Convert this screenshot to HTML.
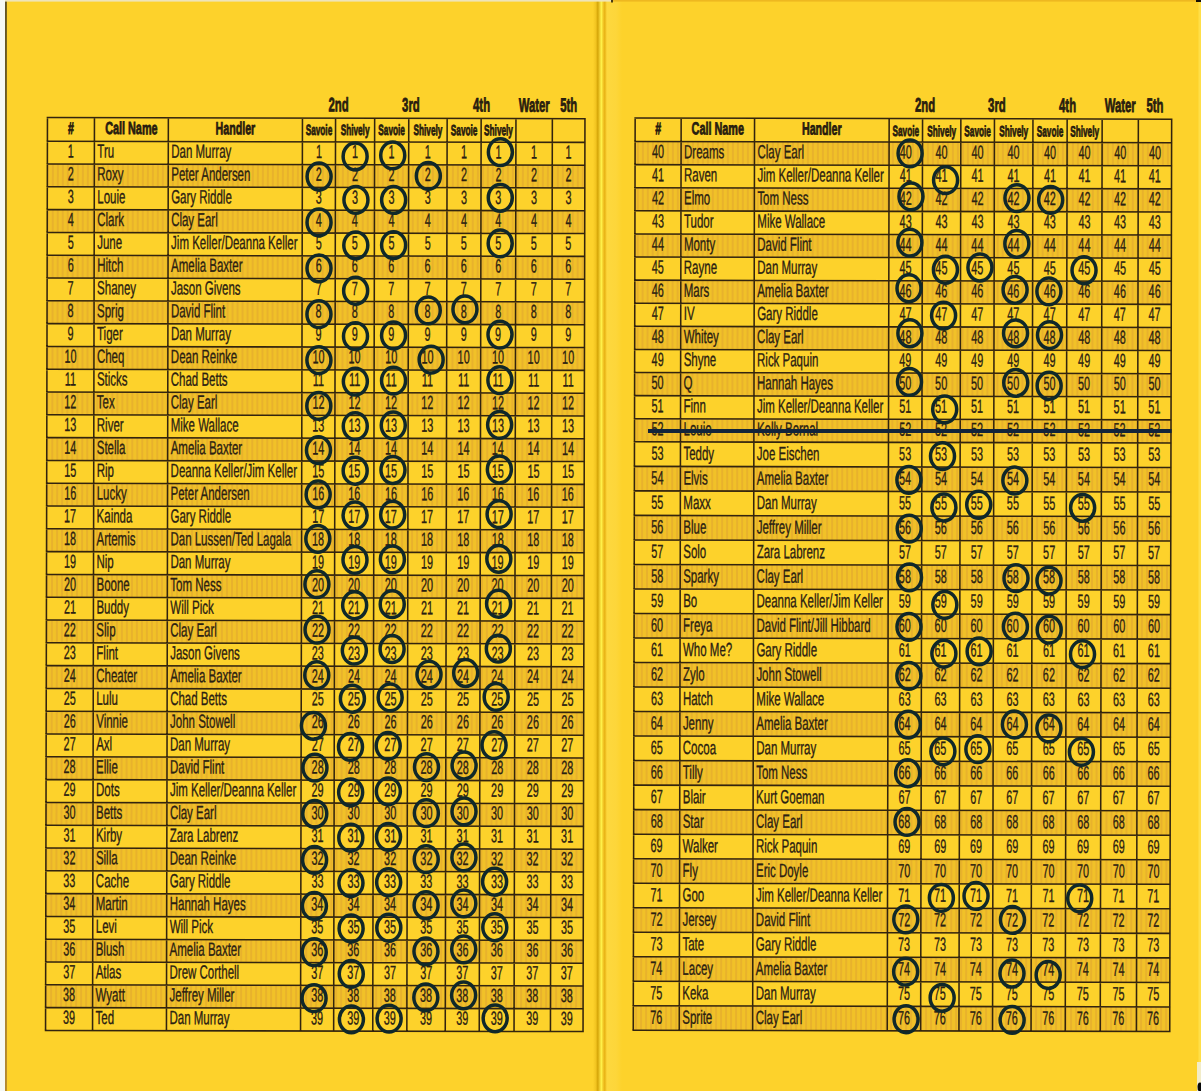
<!DOCTYPE html>
<html><head><meta charset="utf-8"><style>
html,body{margin:0;padding:0;width:1201px;height:1091px;overflow:hidden;background:#fdd22b;}
svg{display:block;font-family:"Liberation Sans",sans-serif;}
</style></head><body>
<svg width="1201" height="1091" viewBox="0 0 1201 1091">
<defs>
<pattern id="shade" width="5" height="4" patternUnits="userSpaceOnUse">
<rect width="5" height="4" fill="#f1c128"/>
<rect x="1" width="2" height="4" fill="#e8b22c"/>
</pattern>
</defs>
<rect width="1201" height="1091" fill="#fdd22b"/>
<rect x="0" y="0" width="5.2" height="1091" fill="#f6f9f4"/>
<defs><linearGradient id="lline" x1="0" y1="0" x2="0" y2="1091" gradientUnits="userSpaceOnUse"><stop offset="0" stop-color="#3c3418"/><stop offset="0.5" stop-color="#6a5420"/><stop offset="1" stop-color="#a07428"/></linearGradient></defs>
<rect x="5.2" y="1" width="1.5" height="1091" fill="url(#lline)"/>
<defs><linearGradient id="fold" x1="593" x2="622" gradientUnits="userSpaceOnUse">
<stop offset="0" stop-color="#fdd22b"/>
<stop offset="0.10" stop-color="#f2c420"/>
<stop offset="0.165" stop-color="#d4a508"/>
<stop offset="0.22" stop-color="#ecc628"/>
<stop offset="0.29" stop-color="#fff24a"/>
<stop offset="0.345" stop-color="#f4cc2a"/>
<stop offset="0.405" stop-color="#e8b214"/>
<stop offset="0.48" stop-color="#fdd83e"/>
<stop offset="0.8" stop-color="#fdd63a"/>
<stop offset="1" stop-color="#fdd22b"/>
</linearGradient></defs>
<rect x="593" y="0" width="29" height="1091" fill="url(#fold)"/>
<rect x="1198.5" y="0" width="2.5" height="1091" fill="#ffdf48"/>
<rect x="5" y="0" width="607" height="1.6" fill="#efe4b8"/>
<rect x="612" y="0" width="1201" height="1.6" fill="#eeb820"/>
<rect x="611" y="0" width="2" height="2.5" fill="#4a3a10"/>

<g transform="rotate(0.12 315 575)">
<rect x="46.5" y="164.60" width="537.50" height="22.80" fill="url(#shade)"/>
<rect x="46.5" y="210.20" width="537.50" height="22.80" fill="url(#shade)"/>
<rect x="46.5" y="255.80" width="537.50" height="22.80" fill="url(#shade)"/>
<rect x="46.5" y="301.40" width="537.50" height="22.80" fill="url(#shade)"/>
<rect x="46.5" y="347.00" width="537.50" height="22.80" fill="url(#shade)"/>
<rect x="46.5" y="392.60" width="537.50" height="22.80" fill="url(#shade)"/>
<rect x="46.5" y="438.20" width="537.50" height="22.80" fill="url(#shade)"/>
<rect x="46.5" y="483.80" width="537.50" height="22.80" fill="url(#shade)"/>
<rect x="46.5" y="529.40" width="537.50" height="22.80" fill="url(#shade)"/>
<rect x="46.5" y="575.00" width="537.50" height="22.80" fill="url(#shade)"/>
<rect x="46.5" y="620.60" width="537.50" height="22.80" fill="url(#shade)"/>
<rect x="46.5" y="666.20" width="537.50" height="22.80" fill="url(#shade)"/>
<rect x="46.5" y="711.80" width="537.50" height="22.80" fill="url(#shade)"/>
<rect x="46.5" y="757.40" width="537.50" height="22.80" fill="url(#shade)"/>
<rect x="46.5" y="803.00" width="537.50" height="22.80" fill="url(#shade)"/>
<rect x="46.5" y="848.60" width="537.50" height="22.80" fill="url(#shade)"/>
<rect x="46.5" y="894.20" width="537.50" height="22.80" fill="url(#shade)"/>
<rect x="46.5" y="939.80" width="537.50" height="22.80" fill="url(#shade)"/>
<rect x="46.5" y="985.40" width="537.50" height="22.80" fill="url(#shade)"/>
<path d="M45.70 118.10H584.80 M45.70 141.80H584.80 M45.70 164.60H584.80 M45.70 187.40H584.80 M45.70 210.20H584.80 M45.70 233.00H584.80 M45.70 255.80H584.80 M45.70 278.60H584.80 M45.70 301.40H584.80 M45.70 324.20H584.80 M45.70 347.00H584.80 M45.70 369.80H584.80 M45.70 392.60H584.80 M45.70 415.40H584.80 M45.70 438.20H584.80 M45.70 461.00H584.80 M45.70 483.80H584.80 M45.70 506.60H584.80 M45.70 529.40H584.80 M45.70 552.20H584.80 M45.70 575.00H584.80 M45.70 597.80H584.80 M45.70 620.60H584.80 M45.70 643.40H584.80 M45.70 666.20H584.80 M45.70 689.00H584.80 M45.70 711.80H584.80 M45.70 734.60H584.80 M45.70 757.40H584.80 M45.70 780.20H584.80 M45.70 803.00H584.80 M45.70 825.80H584.80 M45.70 848.60H584.80 M45.70 871.40H584.80 M45.70 894.20H584.80 M45.70 917.00H584.80 M45.70 939.80H584.80 M45.70 962.60H584.80 M45.70 985.40H584.80 M45.70 1008.20H584.80 M45.70 1031.00H584.80 M46.50 118.10V1031.00 M93.50 118.10V1031.00 M167.40 118.10V1031.00 M301.50 118.10V1031.00 M334.60 118.10V1031.00 M373.70 118.10V1031.00 M407.80 118.10V1031.00 M446.20 118.10V1031.00 M480.20 118.10V1031.00 M515.00 118.10V1031.00 M551.40 118.10V1031.00 M584.00 118.10V1031.00" stroke="#33240e" stroke-width="1.55" fill="none"/>
<text transform="translate(327.55 111.20) scale(0.580 1)" font-size="19.5" font-weight="bold" fill="#2a2012" stroke="#1e160a" stroke-width="0.75">2nd</text>
<text transform="translate(401.15 111.20) scale(0.580 1)" font-size="19.5" font-weight="bold" fill="#2a2012" stroke="#1e160a" stroke-width="0.75">3rd</text>
<text transform="translate(472.12 111.20) scale(0.580 1)" font-size="19.5" font-weight="bold" fill="#2a2012" stroke="#1e160a" stroke-width="0.75">4th</text>
<text transform="translate(517.70 111.20) scale(0.580 1)" font-size="19.5" font-weight="bold" fill="#2a2012" stroke="#1e160a" stroke-width="0.75">Water</text>
<text transform="translate(559.22 111.20) scale(0.580 1)" font-size="19.5" font-weight="bold" fill="#2a2012" stroke="#1e160a" stroke-width="0.75">5th</text>
<text transform="translate(67.07 134.50) scale(0.620 1)" font-size="17" font-weight="bold" fill="#2a2012" stroke="#1e160a" stroke-width="0.75">#</text>
<text transform="translate(104.22 134.50) scale(0.620 1)" font-size="17.5" font-weight="bold" fill="#2a2012" stroke="#1e160a" stroke-width="0.75">Call Name</text>
<text transform="translate(214.58 134.50) scale(0.610 1)" font-size="17.5" font-weight="bold" fill="#2a2012" stroke="#1e160a" stroke-width="0.75">Handler</text>
<text transform="translate(304.75 134.90) scale(0.550 1)" font-size="15" font-weight="bold" fill="#2a2012" stroke="#1e160a" stroke-width="0.75">Savoie</text>
<text transform="translate(339.71 134.90) scale(0.550 1)" font-size="15" font-weight="bold" fill="#2a2012" stroke="#1e160a" stroke-width="0.75">Shively</text>
<text transform="translate(377.45 134.90) scale(0.550 1)" font-size="15" font-weight="bold" fill="#2a2012" stroke="#1e160a" stroke-width="0.75">Savoie</text>
<text transform="translate(412.56 134.90) scale(0.550 1)" font-size="15" font-weight="bold" fill="#2a2012" stroke="#1e160a" stroke-width="0.75">Shively</text>
<text transform="translate(449.90 134.90) scale(0.550 1)" font-size="15" font-weight="bold" fill="#2a2012" stroke="#1e160a" stroke-width="0.75">Savoie</text>
<text transform="translate(483.16 134.90) scale(0.550 1)" font-size="15" font-weight="bold" fill="#2a2012" stroke="#1e160a" stroke-width="0.75">Shively</text>
<text transform="translate(66.99 158.00) scale(0.570 1)" font-size="19" fill="#2a2012" stroke="#2a2012" stroke-width="0.35">1</text>
<text transform="translate(96.50 158.00) scale(0.605 1)" font-size="19" fill="#2a2012" stroke="#2a2012" stroke-width="0.35">Tru</text>
<text transform="translate(170.40 158.00) scale(0.605 1)" font-size="19" fill="#2a2012" stroke="#2a2012" stroke-width="0.35">Dan Murray</text>
<text transform="translate(315.04 158.00) scale(0.570 1)" font-size="19" fill="#2a2012" stroke="#2a2012" stroke-width="0.35">1</text>
<text transform="translate(351.14 158.00) scale(0.570 1)" font-size="19" fill="#2a2012" stroke="#2a2012" stroke-width="0.35">1</text>
<text transform="translate(387.74 158.00) scale(0.570 1)" font-size="19" fill="#2a2012" stroke="#2a2012" stroke-width="0.35">1</text>
<text transform="translate(423.99 158.00) scale(0.570 1)" font-size="19" fill="#2a2012" stroke="#2a2012" stroke-width="0.35">1</text>
<text transform="translate(460.19 158.00) scale(0.570 1)" font-size="19" fill="#2a2012" stroke="#2a2012" stroke-width="0.35">1</text>
<text transform="translate(494.59 158.00) scale(0.570 1)" font-size="19" fill="#2a2012" stroke="#2a2012" stroke-width="0.35">1</text>
<text transform="translate(530.19 158.00) scale(0.570 1)" font-size="19" fill="#2a2012" stroke="#2a2012" stroke-width="0.35">1</text>
<text transform="translate(564.69 158.00) scale(0.570 1)" font-size="19" fill="#2a2012" stroke="#2a2012" stroke-width="0.35">1</text>
<text transform="translate(66.99 180.80) scale(0.570 1)" font-size="19" fill="#2a2012" stroke="#2a2012" stroke-width="0.35">2</text>
<text transform="translate(96.50 180.80) scale(0.605 1)" font-size="19" fill="#2a2012" stroke="#2a2012" stroke-width="0.35">Roxy</text>
<text transform="translate(170.40 180.80) scale(0.605 1)" font-size="19" fill="#2a2012" stroke="#2a2012" stroke-width="0.35">Peter Andersen</text>
<text transform="translate(315.04 180.80) scale(0.570 1)" font-size="19" fill="#2a2012" stroke="#2a2012" stroke-width="0.35">2</text>
<text transform="translate(351.14 180.80) scale(0.570 1)" font-size="19" fill="#2a2012" stroke="#2a2012" stroke-width="0.35">2</text>
<text transform="translate(387.74 180.80) scale(0.570 1)" font-size="19" fill="#2a2012" stroke="#2a2012" stroke-width="0.35">2</text>
<text transform="translate(423.99 180.80) scale(0.570 1)" font-size="19" fill="#2a2012" stroke="#2a2012" stroke-width="0.35">2</text>
<text transform="translate(460.19 180.80) scale(0.570 1)" font-size="19" fill="#2a2012" stroke="#2a2012" stroke-width="0.35">2</text>
<text transform="translate(494.59 180.80) scale(0.570 1)" font-size="19" fill="#2a2012" stroke="#2a2012" stroke-width="0.35">2</text>
<text transform="translate(530.19 180.80) scale(0.570 1)" font-size="19" fill="#2a2012" stroke="#2a2012" stroke-width="0.35">2</text>
<text transform="translate(564.69 180.80) scale(0.570 1)" font-size="19" fill="#2a2012" stroke="#2a2012" stroke-width="0.35">2</text>
<text transform="translate(66.99 203.60) scale(0.570 1)" font-size="19" fill="#2a2012" stroke="#2a2012" stroke-width="0.35">3</text>
<text transform="translate(96.50 203.60) scale(0.605 1)" font-size="19" fill="#2a2012" stroke="#2a2012" stroke-width="0.35">Louie</text>
<text transform="translate(170.40 203.60) scale(0.605 1)" font-size="19" fill="#2a2012" stroke="#2a2012" stroke-width="0.35">Gary Riddle</text>
<text transform="translate(315.04 203.60) scale(0.570 1)" font-size="19" fill="#2a2012" stroke="#2a2012" stroke-width="0.35">3</text>
<text transform="translate(351.14 203.60) scale(0.570 1)" font-size="19" fill="#2a2012" stroke="#2a2012" stroke-width="0.35">3</text>
<text transform="translate(387.74 203.60) scale(0.570 1)" font-size="19" fill="#2a2012" stroke="#2a2012" stroke-width="0.35">3</text>
<text transform="translate(423.99 203.60) scale(0.570 1)" font-size="19" fill="#2a2012" stroke="#2a2012" stroke-width="0.35">3</text>
<text transform="translate(460.19 203.60) scale(0.570 1)" font-size="19" fill="#2a2012" stroke="#2a2012" stroke-width="0.35">3</text>
<text transform="translate(494.59 203.60) scale(0.570 1)" font-size="19" fill="#2a2012" stroke="#2a2012" stroke-width="0.35">3</text>
<text transform="translate(530.19 203.60) scale(0.570 1)" font-size="19" fill="#2a2012" stroke="#2a2012" stroke-width="0.35">3</text>
<text transform="translate(564.69 203.60) scale(0.570 1)" font-size="19" fill="#2a2012" stroke="#2a2012" stroke-width="0.35">3</text>
<text transform="translate(66.99 226.40) scale(0.570 1)" font-size="19" fill="#2a2012" stroke="#2a2012" stroke-width="0.35">4</text>
<text transform="translate(96.50 226.40) scale(0.605 1)" font-size="19" fill="#2a2012" stroke="#2a2012" stroke-width="0.35">Clark</text>
<text transform="translate(170.40 226.40) scale(0.605 1)" font-size="19" fill="#2a2012" stroke="#2a2012" stroke-width="0.35">Clay Earl</text>
<text transform="translate(315.04 226.40) scale(0.570 1)" font-size="19" fill="#2a2012" stroke="#2a2012" stroke-width="0.35">4</text>
<text transform="translate(351.14 226.40) scale(0.570 1)" font-size="19" fill="#2a2012" stroke="#2a2012" stroke-width="0.35">4</text>
<text transform="translate(387.74 226.40) scale(0.570 1)" font-size="19" fill="#2a2012" stroke="#2a2012" stroke-width="0.35">4</text>
<text transform="translate(423.99 226.40) scale(0.570 1)" font-size="19" fill="#2a2012" stroke="#2a2012" stroke-width="0.35">4</text>
<text transform="translate(460.19 226.40) scale(0.570 1)" font-size="19" fill="#2a2012" stroke="#2a2012" stroke-width="0.35">4</text>
<text transform="translate(494.59 226.40) scale(0.570 1)" font-size="19" fill="#2a2012" stroke="#2a2012" stroke-width="0.35">4</text>
<text transform="translate(530.19 226.40) scale(0.570 1)" font-size="19" fill="#2a2012" stroke="#2a2012" stroke-width="0.35">4</text>
<text transform="translate(564.69 226.40) scale(0.570 1)" font-size="19" fill="#2a2012" stroke="#2a2012" stroke-width="0.35">4</text>
<text transform="translate(66.99 249.20) scale(0.570 1)" font-size="19" fill="#2a2012" stroke="#2a2012" stroke-width="0.35">5</text>
<text transform="translate(96.50 249.20) scale(0.605 1)" font-size="19" fill="#2a2012" stroke="#2a2012" stroke-width="0.35">June</text>
<text transform="translate(170.40 249.20) scale(0.605 1)" font-size="19" fill="#2a2012" stroke="#2a2012" stroke-width="0.35">Jim Keller/Deanna Keller</text>
<text transform="translate(315.04 249.20) scale(0.570 1)" font-size="19" fill="#2a2012" stroke="#2a2012" stroke-width="0.35">5</text>
<text transform="translate(351.14 249.20) scale(0.570 1)" font-size="19" fill="#2a2012" stroke="#2a2012" stroke-width="0.35">5</text>
<text transform="translate(387.74 249.20) scale(0.570 1)" font-size="19" fill="#2a2012" stroke="#2a2012" stroke-width="0.35">5</text>
<text transform="translate(423.99 249.20) scale(0.570 1)" font-size="19" fill="#2a2012" stroke="#2a2012" stroke-width="0.35">5</text>
<text transform="translate(460.19 249.20) scale(0.570 1)" font-size="19" fill="#2a2012" stroke="#2a2012" stroke-width="0.35">5</text>
<text transform="translate(494.59 249.20) scale(0.570 1)" font-size="19" fill="#2a2012" stroke="#2a2012" stroke-width="0.35">5</text>
<text transform="translate(530.19 249.20) scale(0.570 1)" font-size="19" fill="#2a2012" stroke="#2a2012" stroke-width="0.35">5</text>
<text transform="translate(564.69 249.20) scale(0.570 1)" font-size="19" fill="#2a2012" stroke="#2a2012" stroke-width="0.35">5</text>
<text transform="translate(66.99 272.00) scale(0.570 1)" font-size="19" fill="#2a2012" stroke="#2a2012" stroke-width="0.35">6</text>
<text transform="translate(96.50 272.00) scale(0.605 1)" font-size="19" fill="#2a2012" stroke="#2a2012" stroke-width="0.35">Hitch</text>
<text transform="translate(170.40 272.00) scale(0.605 1)" font-size="19" fill="#2a2012" stroke="#2a2012" stroke-width="0.35">Amelia Baxter</text>
<text transform="translate(315.04 272.00) scale(0.570 1)" font-size="19" fill="#2a2012" stroke="#2a2012" stroke-width="0.35">6</text>
<text transform="translate(351.14 272.00) scale(0.570 1)" font-size="19" fill="#2a2012" stroke="#2a2012" stroke-width="0.35">6</text>
<text transform="translate(387.74 272.00) scale(0.570 1)" font-size="19" fill="#2a2012" stroke="#2a2012" stroke-width="0.35">6</text>
<text transform="translate(423.99 272.00) scale(0.570 1)" font-size="19" fill="#2a2012" stroke="#2a2012" stroke-width="0.35">6</text>
<text transform="translate(460.19 272.00) scale(0.570 1)" font-size="19" fill="#2a2012" stroke="#2a2012" stroke-width="0.35">6</text>
<text transform="translate(494.59 272.00) scale(0.570 1)" font-size="19" fill="#2a2012" stroke="#2a2012" stroke-width="0.35">6</text>
<text transform="translate(530.19 272.00) scale(0.570 1)" font-size="19" fill="#2a2012" stroke="#2a2012" stroke-width="0.35">6</text>
<text transform="translate(564.69 272.00) scale(0.570 1)" font-size="19" fill="#2a2012" stroke="#2a2012" stroke-width="0.35">6</text>
<text transform="translate(66.99 294.80) scale(0.570 1)" font-size="19" fill="#2a2012" stroke="#2a2012" stroke-width="0.35">7</text>
<text transform="translate(96.50 294.80) scale(0.605 1)" font-size="19" fill="#2a2012" stroke="#2a2012" stroke-width="0.35">Shaney</text>
<text transform="translate(170.40 294.80) scale(0.605 1)" font-size="19" fill="#2a2012" stroke="#2a2012" stroke-width="0.35">Jason Givens</text>
<text transform="translate(315.04 294.80) scale(0.570 1)" font-size="19" fill="#2a2012" stroke="#2a2012" stroke-width="0.35">7</text>
<text transform="translate(351.14 294.80) scale(0.570 1)" font-size="19" fill="#2a2012" stroke="#2a2012" stroke-width="0.35">7</text>
<text transform="translate(387.74 294.80) scale(0.570 1)" font-size="19" fill="#2a2012" stroke="#2a2012" stroke-width="0.35">7</text>
<text transform="translate(423.99 294.80) scale(0.570 1)" font-size="19" fill="#2a2012" stroke="#2a2012" stroke-width="0.35">7</text>
<text transform="translate(460.19 294.80) scale(0.570 1)" font-size="19" fill="#2a2012" stroke="#2a2012" stroke-width="0.35">7</text>
<text transform="translate(494.59 294.80) scale(0.570 1)" font-size="19" fill="#2a2012" stroke="#2a2012" stroke-width="0.35">7</text>
<text transform="translate(530.19 294.80) scale(0.570 1)" font-size="19" fill="#2a2012" stroke="#2a2012" stroke-width="0.35">7</text>
<text transform="translate(564.69 294.80) scale(0.570 1)" font-size="19" fill="#2a2012" stroke="#2a2012" stroke-width="0.35">7</text>
<text transform="translate(66.99 317.60) scale(0.570 1)" font-size="19" fill="#2a2012" stroke="#2a2012" stroke-width="0.35">8</text>
<text transform="translate(96.50 317.60) scale(0.605 1)" font-size="19" fill="#2a2012" stroke="#2a2012" stroke-width="0.35">Sprig</text>
<text transform="translate(170.40 317.60) scale(0.605 1)" font-size="19" fill="#2a2012" stroke="#2a2012" stroke-width="0.35">David Flint</text>
<text transform="translate(315.04 317.60) scale(0.570 1)" font-size="19" fill="#2a2012" stroke="#2a2012" stroke-width="0.35">8</text>
<text transform="translate(351.14 317.60) scale(0.570 1)" font-size="19" fill="#2a2012" stroke="#2a2012" stroke-width="0.35">8</text>
<text transform="translate(387.74 317.60) scale(0.570 1)" font-size="19" fill="#2a2012" stroke="#2a2012" stroke-width="0.35">8</text>
<text transform="translate(423.99 317.60) scale(0.570 1)" font-size="19" fill="#2a2012" stroke="#2a2012" stroke-width="0.35">8</text>
<text transform="translate(460.19 317.60) scale(0.570 1)" font-size="19" fill="#2a2012" stroke="#2a2012" stroke-width="0.35">8</text>
<text transform="translate(494.59 317.60) scale(0.570 1)" font-size="19" fill="#2a2012" stroke="#2a2012" stroke-width="0.35">8</text>
<text transform="translate(530.19 317.60) scale(0.570 1)" font-size="19" fill="#2a2012" stroke="#2a2012" stroke-width="0.35">8</text>
<text transform="translate(564.69 317.60) scale(0.570 1)" font-size="19" fill="#2a2012" stroke="#2a2012" stroke-width="0.35">8</text>
<text transform="translate(66.99 340.40) scale(0.570 1)" font-size="19" fill="#2a2012" stroke="#2a2012" stroke-width="0.35">9</text>
<text transform="translate(96.50 340.40) scale(0.605 1)" font-size="19" fill="#2a2012" stroke="#2a2012" stroke-width="0.35">Tiger</text>
<text transform="translate(170.40 340.40) scale(0.605 1)" font-size="19" fill="#2a2012" stroke="#2a2012" stroke-width="0.35">Dan Murray</text>
<text transform="translate(315.04 340.40) scale(0.570 1)" font-size="19" fill="#2a2012" stroke="#2a2012" stroke-width="0.35">9</text>
<text transform="translate(351.14 340.40) scale(0.570 1)" font-size="19" fill="#2a2012" stroke="#2a2012" stroke-width="0.35">9</text>
<text transform="translate(387.74 340.40) scale(0.570 1)" font-size="19" fill="#2a2012" stroke="#2a2012" stroke-width="0.35">9</text>
<text transform="translate(423.99 340.40) scale(0.570 1)" font-size="19" fill="#2a2012" stroke="#2a2012" stroke-width="0.35">9</text>
<text transform="translate(460.19 340.40) scale(0.570 1)" font-size="19" fill="#2a2012" stroke="#2a2012" stroke-width="0.35">9</text>
<text transform="translate(494.59 340.40) scale(0.570 1)" font-size="19" fill="#2a2012" stroke="#2a2012" stroke-width="0.35">9</text>
<text transform="translate(530.19 340.40) scale(0.570 1)" font-size="19" fill="#2a2012" stroke="#2a2012" stroke-width="0.35">9</text>
<text transform="translate(564.69 340.40) scale(0.570 1)" font-size="19" fill="#2a2012" stroke="#2a2012" stroke-width="0.35">9</text>
<text transform="translate(63.98 363.20) scale(0.570 1)" font-size="19" fill="#2a2012" stroke="#2a2012" stroke-width="0.35">10</text>
<text transform="translate(96.50 363.20) scale(0.605 1)" font-size="19" fill="#2a2012" stroke="#2a2012" stroke-width="0.35">Cheq</text>
<text transform="translate(170.40 363.20) scale(0.605 1)" font-size="19" fill="#2a2012" stroke="#2a2012" stroke-width="0.35">Dean Reinke</text>
<text transform="translate(312.03 363.20) scale(0.570 1)" font-size="19" fill="#2a2012" stroke="#2a2012" stroke-width="0.35">10</text>
<text transform="translate(348.13 363.20) scale(0.570 1)" font-size="19" fill="#2a2012" stroke="#2a2012" stroke-width="0.35">10</text>
<text transform="translate(384.73 363.20) scale(0.570 1)" font-size="19" fill="#2a2012" stroke="#2a2012" stroke-width="0.35">10</text>
<text transform="translate(420.98 363.20) scale(0.570 1)" font-size="19" fill="#2a2012" stroke="#2a2012" stroke-width="0.35">10</text>
<text transform="translate(457.18 363.20) scale(0.570 1)" font-size="19" fill="#2a2012" stroke="#2a2012" stroke-width="0.35">10</text>
<text transform="translate(491.58 363.20) scale(0.570 1)" font-size="19" fill="#2a2012" stroke="#2a2012" stroke-width="0.35">10</text>
<text transform="translate(527.18 363.20) scale(0.570 1)" font-size="19" fill="#2a2012" stroke="#2a2012" stroke-width="0.35">10</text>
<text transform="translate(561.68 363.20) scale(0.570 1)" font-size="19" fill="#2a2012" stroke="#2a2012" stroke-width="0.35">10</text>
<text transform="translate(64.38 386.00) scale(0.570 1)" font-size="19" fill="#2a2012" stroke="#2a2012" stroke-width="0.35">11</text>
<text transform="translate(96.50 386.00) scale(0.605 1)" font-size="19" fill="#2a2012" stroke="#2a2012" stroke-width="0.35">Sticks</text>
<text transform="translate(170.40 386.00) scale(0.605 1)" font-size="19" fill="#2a2012" stroke="#2a2012" stroke-width="0.35">Chad Betts</text>
<text transform="translate(312.43 386.00) scale(0.570 1)" font-size="19" fill="#2a2012" stroke="#2a2012" stroke-width="0.35">11</text>
<text transform="translate(348.53 386.00) scale(0.570 1)" font-size="19" fill="#2a2012" stroke="#2a2012" stroke-width="0.35">11</text>
<text transform="translate(385.13 386.00) scale(0.570 1)" font-size="19" fill="#2a2012" stroke="#2a2012" stroke-width="0.35">11</text>
<text transform="translate(421.38 386.00) scale(0.570 1)" font-size="19" fill="#2a2012" stroke="#2a2012" stroke-width="0.35">11</text>
<text transform="translate(457.58 386.00) scale(0.570 1)" font-size="19" fill="#2a2012" stroke="#2a2012" stroke-width="0.35">11</text>
<text transform="translate(491.98 386.00) scale(0.570 1)" font-size="19" fill="#2a2012" stroke="#2a2012" stroke-width="0.35">11</text>
<text transform="translate(527.58 386.00) scale(0.570 1)" font-size="19" fill="#2a2012" stroke="#2a2012" stroke-width="0.35">11</text>
<text transform="translate(562.08 386.00) scale(0.570 1)" font-size="19" fill="#2a2012" stroke="#2a2012" stroke-width="0.35">11</text>
<text transform="translate(63.98 408.80) scale(0.570 1)" font-size="19" fill="#2a2012" stroke="#2a2012" stroke-width="0.35">12</text>
<text transform="translate(96.50 408.80) scale(0.605 1)" font-size="19" fill="#2a2012" stroke="#2a2012" stroke-width="0.35">Tex</text>
<text transform="translate(170.40 408.80) scale(0.605 1)" font-size="19" fill="#2a2012" stroke="#2a2012" stroke-width="0.35">Clay Earl</text>
<text transform="translate(312.03 408.80) scale(0.570 1)" font-size="19" fill="#2a2012" stroke="#2a2012" stroke-width="0.35">12</text>
<text transform="translate(348.13 408.80) scale(0.570 1)" font-size="19" fill="#2a2012" stroke="#2a2012" stroke-width="0.35">12</text>
<text transform="translate(384.73 408.80) scale(0.570 1)" font-size="19" fill="#2a2012" stroke="#2a2012" stroke-width="0.35">12</text>
<text transform="translate(420.98 408.80) scale(0.570 1)" font-size="19" fill="#2a2012" stroke="#2a2012" stroke-width="0.35">12</text>
<text transform="translate(457.18 408.80) scale(0.570 1)" font-size="19" fill="#2a2012" stroke="#2a2012" stroke-width="0.35">12</text>
<text transform="translate(491.58 408.80) scale(0.570 1)" font-size="19" fill="#2a2012" stroke="#2a2012" stroke-width="0.35">12</text>
<text transform="translate(527.18 408.80) scale(0.570 1)" font-size="19" fill="#2a2012" stroke="#2a2012" stroke-width="0.35">12</text>
<text transform="translate(561.68 408.80) scale(0.570 1)" font-size="19" fill="#2a2012" stroke="#2a2012" stroke-width="0.35">12</text>
<text transform="translate(63.98 431.60) scale(0.570 1)" font-size="19" fill="#2a2012" stroke="#2a2012" stroke-width="0.35">13</text>
<text transform="translate(96.50 431.60) scale(0.605 1)" font-size="19" fill="#2a2012" stroke="#2a2012" stroke-width="0.35">River</text>
<text transform="translate(170.40 431.60) scale(0.605 1)" font-size="19" fill="#2a2012" stroke="#2a2012" stroke-width="0.35">Mike Wallace</text>
<text transform="translate(312.03 431.60) scale(0.570 1)" font-size="19" fill="#2a2012" stroke="#2a2012" stroke-width="0.35">13</text>
<text transform="translate(348.13 431.60) scale(0.570 1)" font-size="19" fill="#2a2012" stroke="#2a2012" stroke-width="0.35">13</text>
<text transform="translate(384.73 431.60) scale(0.570 1)" font-size="19" fill="#2a2012" stroke="#2a2012" stroke-width="0.35">13</text>
<text transform="translate(420.98 431.60) scale(0.570 1)" font-size="19" fill="#2a2012" stroke="#2a2012" stroke-width="0.35">13</text>
<text transform="translate(457.18 431.60) scale(0.570 1)" font-size="19" fill="#2a2012" stroke="#2a2012" stroke-width="0.35">13</text>
<text transform="translate(491.58 431.60) scale(0.570 1)" font-size="19" fill="#2a2012" stroke="#2a2012" stroke-width="0.35">13</text>
<text transform="translate(527.18 431.60) scale(0.570 1)" font-size="19" fill="#2a2012" stroke="#2a2012" stroke-width="0.35">13</text>
<text transform="translate(561.68 431.60) scale(0.570 1)" font-size="19" fill="#2a2012" stroke="#2a2012" stroke-width="0.35">13</text>
<text transform="translate(63.98 454.40) scale(0.570 1)" font-size="19" fill="#2a2012" stroke="#2a2012" stroke-width="0.35">14</text>
<text transform="translate(96.50 454.40) scale(0.605 1)" font-size="19" fill="#2a2012" stroke="#2a2012" stroke-width="0.35">Stella</text>
<text transform="translate(170.40 454.40) scale(0.605 1)" font-size="19" fill="#2a2012" stroke="#2a2012" stroke-width="0.35">Amelia Baxter</text>
<text transform="translate(312.03 454.40) scale(0.570 1)" font-size="19" fill="#2a2012" stroke="#2a2012" stroke-width="0.35">14</text>
<text transform="translate(348.13 454.40) scale(0.570 1)" font-size="19" fill="#2a2012" stroke="#2a2012" stroke-width="0.35">14</text>
<text transform="translate(384.73 454.40) scale(0.570 1)" font-size="19" fill="#2a2012" stroke="#2a2012" stroke-width="0.35">14</text>
<text transform="translate(420.98 454.40) scale(0.570 1)" font-size="19" fill="#2a2012" stroke="#2a2012" stroke-width="0.35">14</text>
<text transform="translate(457.18 454.40) scale(0.570 1)" font-size="19" fill="#2a2012" stroke="#2a2012" stroke-width="0.35">14</text>
<text transform="translate(491.58 454.40) scale(0.570 1)" font-size="19" fill="#2a2012" stroke="#2a2012" stroke-width="0.35">14</text>
<text transform="translate(527.18 454.40) scale(0.570 1)" font-size="19" fill="#2a2012" stroke="#2a2012" stroke-width="0.35">14</text>
<text transform="translate(561.68 454.40) scale(0.570 1)" font-size="19" fill="#2a2012" stroke="#2a2012" stroke-width="0.35">14</text>
<text transform="translate(63.98 477.20) scale(0.570 1)" font-size="19" fill="#2a2012" stroke="#2a2012" stroke-width="0.35">15</text>
<text transform="translate(96.50 477.20) scale(0.605 1)" font-size="19" fill="#2a2012" stroke="#2a2012" stroke-width="0.35">Rip</text>
<text transform="translate(170.40 477.20) scale(0.605 1)" font-size="19" fill="#2a2012" stroke="#2a2012" stroke-width="0.35">Deanna Keller/Jim Keller</text>
<text transform="translate(312.03 477.20) scale(0.570 1)" font-size="19" fill="#2a2012" stroke="#2a2012" stroke-width="0.35">15</text>
<text transform="translate(348.13 477.20) scale(0.570 1)" font-size="19" fill="#2a2012" stroke="#2a2012" stroke-width="0.35">15</text>
<text transform="translate(384.73 477.20) scale(0.570 1)" font-size="19" fill="#2a2012" stroke="#2a2012" stroke-width="0.35">15</text>
<text transform="translate(420.98 477.20) scale(0.570 1)" font-size="19" fill="#2a2012" stroke="#2a2012" stroke-width="0.35">15</text>
<text transform="translate(457.18 477.20) scale(0.570 1)" font-size="19" fill="#2a2012" stroke="#2a2012" stroke-width="0.35">15</text>
<text transform="translate(491.58 477.20) scale(0.570 1)" font-size="19" fill="#2a2012" stroke="#2a2012" stroke-width="0.35">15</text>
<text transform="translate(527.18 477.20) scale(0.570 1)" font-size="19" fill="#2a2012" stroke="#2a2012" stroke-width="0.35">15</text>
<text transform="translate(561.68 477.20) scale(0.570 1)" font-size="19" fill="#2a2012" stroke="#2a2012" stroke-width="0.35">15</text>
<text transform="translate(63.98 500.00) scale(0.570 1)" font-size="19" fill="#2a2012" stroke="#2a2012" stroke-width="0.35">16</text>
<text transform="translate(96.50 500.00) scale(0.605 1)" font-size="19" fill="#2a2012" stroke="#2a2012" stroke-width="0.35">Lucky</text>
<text transform="translate(170.40 500.00) scale(0.605 1)" font-size="19" fill="#2a2012" stroke="#2a2012" stroke-width="0.35">Peter Andersen</text>
<text transform="translate(312.03 500.00) scale(0.570 1)" font-size="19" fill="#2a2012" stroke="#2a2012" stroke-width="0.35">16</text>
<text transform="translate(348.13 500.00) scale(0.570 1)" font-size="19" fill="#2a2012" stroke="#2a2012" stroke-width="0.35">16</text>
<text transform="translate(384.73 500.00) scale(0.570 1)" font-size="19" fill="#2a2012" stroke="#2a2012" stroke-width="0.35">16</text>
<text transform="translate(420.98 500.00) scale(0.570 1)" font-size="19" fill="#2a2012" stroke="#2a2012" stroke-width="0.35">16</text>
<text transform="translate(457.18 500.00) scale(0.570 1)" font-size="19" fill="#2a2012" stroke="#2a2012" stroke-width="0.35">16</text>
<text transform="translate(491.58 500.00) scale(0.570 1)" font-size="19" fill="#2a2012" stroke="#2a2012" stroke-width="0.35">16</text>
<text transform="translate(527.18 500.00) scale(0.570 1)" font-size="19" fill="#2a2012" stroke="#2a2012" stroke-width="0.35">16</text>
<text transform="translate(561.68 500.00) scale(0.570 1)" font-size="19" fill="#2a2012" stroke="#2a2012" stroke-width="0.35">16</text>
<text transform="translate(63.98 522.80) scale(0.570 1)" font-size="19" fill="#2a2012" stroke="#2a2012" stroke-width="0.35">17</text>
<text transform="translate(96.50 522.80) scale(0.605 1)" font-size="19" fill="#2a2012" stroke="#2a2012" stroke-width="0.35">Kainda</text>
<text transform="translate(170.40 522.80) scale(0.605 1)" font-size="19" fill="#2a2012" stroke="#2a2012" stroke-width="0.35">Gary Riddle</text>
<text transform="translate(312.03 522.80) scale(0.570 1)" font-size="19" fill="#2a2012" stroke="#2a2012" stroke-width="0.35">17</text>
<text transform="translate(348.13 522.80) scale(0.570 1)" font-size="19" fill="#2a2012" stroke="#2a2012" stroke-width="0.35">17</text>
<text transform="translate(384.73 522.80) scale(0.570 1)" font-size="19" fill="#2a2012" stroke="#2a2012" stroke-width="0.35">17</text>
<text transform="translate(420.98 522.80) scale(0.570 1)" font-size="19" fill="#2a2012" stroke="#2a2012" stroke-width="0.35">17</text>
<text transform="translate(457.18 522.80) scale(0.570 1)" font-size="19" fill="#2a2012" stroke="#2a2012" stroke-width="0.35">17</text>
<text transform="translate(491.58 522.80) scale(0.570 1)" font-size="19" fill="#2a2012" stroke="#2a2012" stroke-width="0.35">17</text>
<text transform="translate(527.18 522.80) scale(0.570 1)" font-size="19" fill="#2a2012" stroke="#2a2012" stroke-width="0.35">17</text>
<text transform="translate(561.68 522.80) scale(0.570 1)" font-size="19" fill="#2a2012" stroke="#2a2012" stroke-width="0.35">17</text>
<text transform="translate(63.98 545.60) scale(0.570 1)" font-size="19" fill="#2a2012" stroke="#2a2012" stroke-width="0.35">18</text>
<text transform="translate(96.50 545.60) scale(0.605 1)" font-size="19" fill="#2a2012" stroke="#2a2012" stroke-width="0.35">Artemis</text>
<text transform="translate(170.40 545.60) scale(0.605 1)" font-size="19" fill="#2a2012" stroke="#2a2012" stroke-width="0.35">Dan Lussen/Ted Lagala</text>
<text transform="translate(312.03 545.60) scale(0.570 1)" font-size="19" fill="#2a2012" stroke="#2a2012" stroke-width="0.35">18</text>
<text transform="translate(348.13 545.60) scale(0.570 1)" font-size="19" fill="#2a2012" stroke="#2a2012" stroke-width="0.35">18</text>
<text transform="translate(384.73 545.60) scale(0.570 1)" font-size="19" fill="#2a2012" stroke="#2a2012" stroke-width="0.35">18</text>
<text transform="translate(420.98 545.60) scale(0.570 1)" font-size="19" fill="#2a2012" stroke="#2a2012" stroke-width="0.35">18</text>
<text transform="translate(457.18 545.60) scale(0.570 1)" font-size="19" fill="#2a2012" stroke="#2a2012" stroke-width="0.35">18</text>
<text transform="translate(491.58 545.60) scale(0.570 1)" font-size="19" fill="#2a2012" stroke="#2a2012" stroke-width="0.35">18</text>
<text transform="translate(527.18 545.60) scale(0.570 1)" font-size="19" fill="#2a2012" stroke="#2a2012" stroke-width="0.35">18</text>
<text transform="translate(561.68 545.60) scale(0.570 1)" font-size="19" fill="#2a2012" stroke="#2a2012" stroke-width="0.35">18</text>
<text transform="translate(63.98 568.40) scale(0.570 1)" font-size="19" fill="#2a2012" stroke="#2a2012" stroke-width="0.35">19</text>
<text transform="translate(96.50 568.40) scale(0.605 1)" font-size="19" fill="#2a2012" stroke="#2a2012" stroke-width="0.35">Nip</text>
<text transform="translate(170.40 568.40) scale(0.605 1)" font-size="19" fill="#2a2012" stroke="#2a2012" stroke-width="0.35">Dan Murray</text>
<text transform="translate(312.03 568.40) scale(0.570 1)" font-size="19" fill="#2a2012" stroke="#2a2012" stroke-width="0.35">19</text>
<text transform="translate(348.13 568.40) scale(0.570 1)" font-size="19" fill="#2a2012" stroke="#2a2012" stroke-width="0.35">19</text>
<text transform="translate(384.73 568.40) scale(0.570 1)" font-size="19" fill="#2a2012" stroke="#2a2012" stroke-width="0.35">19</text>
<text transform="translate(420.98 568.40) scale(0.570 1)" font-size="19" fill="#2a2012" stroke="#2a2012" stroke-width="0.35">19</text>
<text transform="translate(457.18 568.40) scale(0.570 1)" font-size="19" fill="#2a2012" stroke="#2a2012" stroke-width="0.35">19</text>
<text transform="translate(491.58 568.40) scale(0.570 1)" font-size="19" fill="#2a2012" stroke="#2a2012" stroke-width="0.35">19</text>
<text transform="translate(527.18 568.40) scale(0.570 1)" font-size="19" fill="#2a2012" stroke="#2a2012" stroke-width="0.35">19</text>
<text transform="translate(561.68 568.40) scale(0.570 1)" font-size="19" fill="#2a2012" stroke="#2a2012" stroke-width="0.35">19</text>
<text transform="translate(63.98 591.20) scale(0.570 1)" font-size="19" fill="#2a2012" stroke="#2a2012" stroke-width="0.35">20</text>
<text transform="translate(96.50 591.20) scale(0.605 1)" font-size="19" fill="#2a2012" stroke="#2a2012" stroke-width="0.35">Boone</text>
<text transform="translate(170.40 591.20) scale(0.605 1)" font-size="19" fill="#2a2012" stroke="#2a2012" stroke-width="0.35">Tom Ness</text>
<text transform="translate(312.03 591.20) scale(0.570 1)" font-size="19" fill="#2a2012" stroke="#2a2012" stroke-width="0.35">20</text>
<text transform="translate(348.13 591.20) scale(0.570 1)" font-size="19" fill="#2a2012" stroke="#2a2012" stroke-width="0.35">20</text>
<text transform="translate(384.73 591.20) scale(0.570 1)" font-size="19" fill="#2a2012" stroke="#2a2012" stroke-width="0.35">20</text>
<text transform="translate(420.98 591.20) scale(0.570 1)" font-size="19" fill="#2a2012" stroke="#2a2012" stroke-width="0.35">20</text>
<text transform="translate(457.18 591.20) scale(0.570 1)" font-size="19" fill="#2a2012" stroke="#2a2012" stroke-width="0.35">20</text>
<text transform="translate(491.58 591.20) scale(0.570 1)" font-size="19" fill="#2a2012" stroke="#2a2012" stroke-width="0.35">20</text>
<text transform="translate(527.18 591.20) scale(0.570 1)" font-size="19" fill="#2a2012" stroke="#2a2012" stroke-width="0.35">20</text>
<text transform="translate(561.68 591.20) scale(0.570 1)" font-size="19" fill="#2a2012" stroke="#2a2012" stroke-width="0.35">20</text>
<text transform="translate(63.98 614.00) scale(0.570 1)" font-size="19" fill="#2a2012" stroke="#2a2012" stroke-width="0.35">21</text>
<text transform="translate(96.50 614.00) scale(0.605 1)" font-size="19" fill="#2a2012" stroke="#2a2012" stroke-width="0.35">Buddy</text>
<text transform="translate(170.40 614.00) scale(0.605 1)" font-size="19" fill="#2a2012" stroke="#2a2012" stroke-width="0.35">Will Pick</text>
<text transform="translate(312.03 614.00) scale(0.570 1)" font-size="19" fill="#2a2012" stroke="#2a2012" stroke-width="0.35">21</text>
<text transform="translate(348.13 614.00) scale(0.570 1)" font-size="19" fill="#2a2012" stroke="#2a2012" stroke-width="0.35">21</text>
<text transform="translate(384.73 614.00) scale(0.570 1)" font-size="19" fill="#2a2012" stroke="#2a2012" stroke-width="0.35">21</text>
<text transform="translate(420.98 614.00) scale(0.570 1)" font-size="19" fill="#2a2012" stroke="#2a2012" stroke-width="0.35">21</text>
<text transform="translate(457.18 614.00) scale(0.570 1)" font-size="19" fill="#2a2012" stroke="#2a2012" stroke-width="0.35">21</text>
<text transform="translate(491.58 614.00) scale(0.570 1)" font-size="19" fill="#2a2012" stroke="#2a2012" stroke-width="0.35">21</text>
<text transform="translate(527.18 614.00) scale(0.570 1)" font-size="19" fill="#2a2012" stroke="#2a2012" stroke-width="0.35">21</text>
<text transform="translate(561.68 614.00) scale(0.570 1)" font-size="19" fill="#2a2012" stroke="#2a2012" stroke-width="0.35">21</text>
<text transform="translate(63.98 636.80) scale(0.570 1)" font-size="19" fill="#2a2012" stroke="#2a2012" stroke-width="0.35">22</text>
<text transform="translate(96.50 636.80) scale(0.605 1)" font-size="19" fill="#2a2012" stroke="#2a2012" stroke-width="0.35">Slip</text>
<text transform="translate(170.40 636.80) scale(0.605 1)" font-size="19" fill="#2a2012" stroke="#2a2012" stroke-width="0.35">Clay Earl</text>
<text transform="translate(312.03 636.80) scale(0.570 1)" font-size="19" fill="#2a2012" stroke="#2a2012" stroke-width="0.35">22</text>
<text transform="translate(348.13 636.80) scale(0.570 1)" font-size="19" fill="#2a2012" stroke="#2a2012" stroke-width="0.35">22</text>
<text transform="translate(384.73 636.80) scale(0.570 1)" font-size="19" fill="#2a2012" stroke="#2a2012" stroke-width="0.35">22</text>
<text transform="translate(420.98 636.80) scale(0.570 1)" font-size="19" fill="#2a2012" stroke="#2a2012" stroke-width="0.35">22</text>
<text transform="translate(457.18 636.80) scale(0.570 1)" font-size="19" fill="#2a2012" stroke="#2a2012" stroke-width="0.35">22</text>
<text transform="translate(491.58 636.80) scale(0.570 1)" font-size="19" fill="#2a2012" stroke="#2a2012" stroke-width="0.35">22</text>
<text transform="translate(527.18 636.80) scale(0.570 1)" font-size="19" fill="#2a2012" stroke="#2a2012" stroke-width="0.35">22</text>
<text transform="translate(561.68 636.80) scale(0.570 1)" font-size="19" fill="#2a2012" stroke="#2a2012" stroke-width="0.35">22</text>
<text transform="translate(63.98 659.60) scale(0.570 1)" font-size="19" fill="#2a2012" stroke="#2a2012" stroke-width="0.35">23</text>
<text transform="translate(96.50 659.60) scale(0.605 1)" font-size="19" fill="#2a2012" stroke="#2a2012" stroke-width="0.35">Flint</text>
<text transform="translate(170.40 659.60) scale(0.605 1)" font-size="19" fill="#2a2012" stroke="#2a2012" stroke-width="0.35">Jason Givens</text>
<text transform="translate(312.03 659.60) scale(0.570 1)" font-size="19" fill="#2a2012" stroke="#2a2012" stroke-width="0.35">23</text>
<text transform="translate(348.13 659.60) scale(0.570 1)" font-size="19" fill="#2a2012" stroke="#2a2012" stroke-width="0.35">23</text>
<text transform="translate(384.73 659.60) scale(0.570 1)" font-size="19" fill="#2a2012" stroke="#2a2012" stroke-width="0.35">23</text>
<text transform="translate(420.98 659.60) scale(0.570 1)" font-size="19" fill="#2a2012" stroke="#2a2012" stroke-width="0.35">23</text>
<text transform="translate(457.18 659.60) scale(0.570 1)" font-size="19" fill="#2a2012" stroke="#2a2012" stroke-width="0.35">23</text>
<text transform="translate(491.58 659.60) scale(0.570 1)" font-size="19" fill="#2a2012" stroke="#2a2012" stroke-width="0.35">23</text>
<text transform="translate(527.18 659.60) scale(0.570 1)" font-size="19" fill="#2a2012" stroke="#2a2012" stroke-width="0.35">23</text>
<text transform="translate(561.68 659.60) scale(0.570 1)" font-size="19" fill="#2a2012" stroke="#2a2012" stroke-width="0.35">23</text>
<text transform="translate(63.98 682.40) scale(0.570 1)" font-size="19" fill="#2a2012" stroke="#2a2012" stroke-width="0.35">24</text>
<text transform="translate(96.50 682.40) scale(0.605 1)" font-size="19" fill="#2a2012" stroke="#2a2012" stroke-width="0.35">Cheater</text>
<text transform="translate(170.40 682.40) scale(0.605 1)" font-size="19" fill="#2a2012" stroke="#2a2012" stroke-width="0.35">Amelia Baxter</text>
<text transform="translate(312.03 682.40) scale(0.570 1)" font-size="19" fill="#2a2012" stroke="#2a2012" stroke-width="0.35">24</text>
<text transform="translate(348.13 682.40) scale(0.570 1)" font-size="19" fill="#2a2012" stroke="#2a2012" stroke-width="0.35">24</text>
<text transform="translate(384.73 682.40) scale(0.570 1)" font-size="19" fill="#2a2012" stroke="#2a2012" stroke-width="0.35">24</text>
<text transform="translate(420.98 682.40) scale(0.570 1)" font-size="19" fill="#2a2012" stroke="#2a2012" stroke-width="0.35">24</text>
<text transform="translate(457.18 682.40) scale(0.570 1)" font-size="19" fill="#2a2012" stroke="#2a2012" stroke-width="0.35">24</text>
<text transform="translate(491.58 682.40) scale(0.570 1)" font-size="19" fill="#2a2012" stroke="#2a2012" stroke-width="0.35">24</text>
<text transform="translate(527.18 682.40) scale(0.570 1)" font-size="19" fill="#2a2012" stroke="#2a2012" stroke-width="0.35">24</text>
<text transform="translate(561.68 682.40) scale(0.570 1)" font-size="19" fill="#2a2012" stroke="#2a2012" stroke-width="0.35">24</text>
<text transform="translate(63.98 705.20) scale(0.570 1)" font-size="19" fill="#2a2012" stroke="#2a2012" stroke-width="0.35">25</text>
<text transform="translate(96.50 705.20) scale(0.605 1)" font-size="19" fill="#2a2012" stroke="#2a2012" stroke-width="0.35">Lulu</text>
<text transform="translate(170.40 705.20) scale(0.605 1)" font-size="19" fill="#2a2012" stroke="#2a2012" stroke-width="0.35">Chad Betts</text>
<text transform="translate(312.03 705.20) scale(0.570 1)" font-size="19" fill="#2a2012" stroke="#2a2012" stroke-width="0.35">25</text>
<text transform="translate(348.13 705.20) scale(0.570 1)" font-size="19" fill="#2a2012" stroke="#2a2012" stroke-width="0.35">25</text>
<text transform="translate(384.73 705.20) scale(0.570 1)" font-size="19" fill="#2a2012" stroke="#2a2012" stroke-width="0.35">25</text>
<text transform="translate(420.98 705.20) scale(0.570 1)" font-size="19" fill="#2a2012" stroke="#2a2012" stroke-width="0.35">25</text>
<text transform="translate(457.18 705.20) scale(0.570 1)" font-size="19" fill="#2a2012" stroke="#2a2012" stroke-width="0.35">25</text>
<text transform="translate(491.58 705.20) scale(0.570 1)" font-size="19" fill="#2a2012" stroke="#2a2012" stroke-width="0.35">25</text>
<text transform="translate(527.18 705.20) scale(0.570 1)" font-size="19" fill="#2a2012" stroke="#2a2012" stroke-width="0.35">25</text>
<text transform="translate(561.68 705.20) scale(0.570 1)" font-size="19" fill="#2a2012" stroke="#2a2012" stroke-width="0.35">25</text>
<text transform="translate(63.98 728.00) scale(0.570 1)" font-size="19" fill="#2a2012" stroke="#2a2012" stroke-width="0.35">26</text>
<text transform="translate(96.50 728.00) scale(0.605 1)" font-size="19" fill="#2a2012" stroke="#2a2012" stroke-width="0.35">Vinnie</text>
<text transform="translate(170.40 728.00) scale(0.605 1)" font-size="19" fill="#2a2012" stroke="#2a2012" stroke-width="0.35">John Stowell</text>
<text transform="translate(312.03 728.00) scale(0.570 1)" font-size="19" fill="#2a2012" stroke="#2a2012" stroke-width="0.35">26</text>
<text transform="translate(348.13 728.00) scale(0.570 1)" font-size="19" fill="#2a2012" stroke="#2a2012" stroke-width="0.35">26</text>
<text transform="translate(384.73 728.00) scale(0.570 1)" font-size="19" fill="#2a2012" stroke="#2a2012" stroke-width="0.35">26</text>
<text transform="translate(420.98 728.00) scale(0.570 1)" font-size="19" fill="#2a2012" stroke="#2a2012" stroke-width="0.35">26</text>
<text transform="translate(457.18 728.00) scale(0.570 1)" font-size="19" fill="#2a2012" stroke="#2a2012" stroke-width="0.35">26</text>
<text transform="translate(491.58 728.00) scale(0.570 1)" font-size="19" fill="#2a2012" stroke="#2a2012" stroke-width="0.35">26</text>
<text transform="translate(527.18 728.00) scale(0.570 1)" font-size="19" fill="#2a2012" stroke="#2a2012" stroke-width="0.35">26</text>
<text transform="translate(561.68 728.00) scale(0.570 1)" font-size="19" fill="#2a2012" stroke="#2a2012" stroke-width="0.35">26</text>
<text transform="translate(63.98 750.80) scale(0.570 1)" font-size="19" fill="#2a2012" stroke="#2a2012" stroke-width="0.35">27</text>
<text transform="translate(96.50 750.80) scale(0.605 1)" font-size="19" fill="#2a2012" stroke="#2a2012" stroke-width="0.35">Axl</text>
<text transform="translate(170.40 750.80) scale(0.605 1)" font-size="19" fill="#2a2012" stroke="#2a2012" stroke-width="0.35">Dan Murray</text>
<text transform="translate(312.03 750.80) scale(0.570 1)" font-size="19" fill="#2a2012" stroke="#2a2012" stroke-width="0.35">27</text>
<text transform="translate(348.13 750.80) scale(0.570 1)" font-size="19" fill="#2a2012" stroke="#2a2012" stroke-width="0.35">27</text>
<text transform="translate(384.73 750.80) scale(0.570 1)" font-size="19" fill="#2a2012" stroke="#2a2012" stroke-width="0.35">27</text>
<text transform="translate(420.98 750.80) scale(0.570 1)" font-size="19" fill="#2a2012" stroke="#2a2012" stroke-width="0.35">27</text>
<text transform="translate(457.18 750.80) scale(0.570 1)" font-size="19" fill="#2a2012" stroke="#2a2012" stroke-width="0.35">27</text>
<text transform="translate(491.58 750.80) scale(0.570 1)" font-size="19" fill="#2a2012" stroke="#2a2012" stroke-width="0.35">27</text>
<text transform="translate(527.18 750.80) scale(0.570 1)" font-size="19" fill="#2a2012" stroke="#2a2012" stroke-width="0.35">27</text>
<text transform="translate(561.68 750.80) scale(0.570 1)" font-size="19" fill="#2a2012" stroke="#2a2012" stroke-width="0.35">27</text>
<text transform="translate(63.98 773.60) scale(0.570 1)" font-size="19" fill="#2a2012" stroke="#2a2012" stroke-width="0.35">28</text>
<text transform="translate(96.50 773.60) scale(0.605 1)" font-size="19" fill="#2a2012" stroke="#2a2012" stroke-width="0.35">Ellie</text>
<text transform="translate(170.40 773.60) scale(0.605 1)" font-size="19" fill="#2a2012" stroke="#2a2012" stroke-width="0.35">David Flint</text>
<text transform="translate(312.03 773.60) scale(0.570 1)" font-size="19" fill="#2a2012" stroke="#2a2012" stroke-width="0.35">28</text>
<text transform="translate(348.13 773.60) scale(0.570 1)" font-size="19" fill="#2a2012" stroke="#2a2012" stroke-width="0.35">28</text>
<text transform="translate(384.73 773.60) scale(0.570 1)" font-size="19" fill="#2a2012" stroke="#2a2012" stroke-width="0.35">28</text>
<text transform="translate(420.98 773.60) scale(0.570 1)" font-size="19" fill="#2a2012" stroke="#2a2012" stroke-width="0.35">28</text>
<text transform="translate(457.18 773.60) scale(0.570 1)" font-size="19" fill="#2a2012" stroke="#2a2012" stroke-width="0.35">28</text>
<text transform="translate(491.58 773.60) scale(0.570 1)" font-size="19" fill="#2a2012" stroke="#2a2012" stroke-width="0.35">28</text>
<text transform="translate(527.18 773.60) scale(0.570 1)" font-size="19" fill="#2a2012" stroke="#2a2012" stroke-width="0.35">28</text>
<text transform="translate(561.68 773.60) scale(0.570 1)" font-size="19" fill="#2a2012" stroke="#2a2012" stroke-width="0.35">28</text>
<text transform="translate(63.98 796.40) scale(0.570 1)" font-size="19" fill="#2a2012" stroke="#2a2012" stroke-width="0.35">29</text>
<text transform="translate(96.50 796.40) scale(0.605 1)" font-size="19" fill="#2a2012" stroke="#2a2012" stroke-width="0.35">Dots</text>
<text transform="translate(170.40 796.40) scale(0.605 1)" font-size="19" fill="#2a2012" stroke="#2a2012" stroke-width="0.35">Jim Keller/Deanna Keller</text>
<text transform="translate(312.03 796.40) scale(0.570 1)" font-size="19" fill="#2a2012" stroke="#2a2012" stroke-width="0.35">29</text>
<text transform="translate(348.13 796.40) scale(0.570 1)" font-size="19" fill="#2a2012" stroke="#2a2012" stroke-width="0.35">29</text>
<text transform="translate(384.73 796.40) scale(0.570 1)" font-size="19" fill="#2a2012" stroke="#2a2012" stroke-width="0.35">29</text>
<text transform="translate(420.98 796.40) scale(0.570 1)" font-size="19" fill="#2a2012" stroke="#2a2012" stroke-width="0.35">29</text>
<text transform="translate(457.18 796.40) scale(0.570 1)" font-size="19" fill="#2a2012" stroke="#2a2012" stroke-width="0.35">29</text>
<text transform="translate(491.58 796.40) scale(0.570 1)" font-size="19" fill="#2a2012" stroke="#2a2012" stroke-width="0.35">29</text>
<text transform="translate(527.18 796.40) scale(0.570 1)" font-size="19" fill="#2a2012" stroke="#2a2012" stroke-width="0.35">29</text>
<text transform="translate(561.68 796.40) scale(0.570 1)" font-size="19" fill="#2a2012" stroke="#2a2012" stroke-width="0.35">29</text>
<text transform="translate(63.98 819.20) scale(0.570 1)" font-size="19" fill="#2a2012" stroke="#2a2012" stroke-width="0.35">30</text>
<text transform="translate(96.50 819.20) scale(0.605 1)" font-size="19" fill="#2a2012" stroke="#2a2012" stroke-width="0.35">Betts</text>
<text transform="translate(170.40 819.20) scale(0.605 1)" font-size="19" fill="#2a2012" stroke="#2a2012" stroke-width="0.35">Clay Earl</text>
<text transform="translate(312.03 819.20) scale(0.570 1)" font-size="19" fill="#2a2012" stroke="#2a2012" stroke-width="0.35">30</text>
<text transform="translate(348.13 819.20) scale(0.570 1)" font-size="19" fill="#2a2012" stroke="#2a2012" stroke-width="0.35">30</text>
<text transform="translate(384.73 819.20) scale(0.570 1)" font-size="19" fill="#2a2012" stroke="#2a2012" stroke-width="0.35">30</text>
<text transform="translate(420.98 819.20) scale(0.570 1)" font-size="19" fill="#2a2012" stroke="#2a2012" stroke-width="0.35">30</text>
<text transform="translate(457.18 819.20) scale(0.570 1)" font-size="19" fill="#2a2012" stroke="#2a2012" stroke-width="0.35">30</text>
<text transform="translate(491.58 819.20) scale(0.570 1)" font-size="19" fill="#2a2012" stroke="#2a2012" stroke-width="0.35">30</text>
<text transform="translate(527.18 819.20) scale(0.570 1)" font-size="19" fill="#2a2012" stroke="#2a2012" stroke-width="0.35">30</text>
<text transform="translate(561.68 819.20) scale(0.570 1)" font-size="19" fill="#2a2012" stroke="#2a2012" stroke-width="0.35">30</text>
<text transform="translate(63.98 842.00) scale(0.570 1)" font-size="19" fill="#2a2012" stroke="#2a2012" stroke-width="0.35">31</text>
<text transform="translate(96.50 842.00) scale(0.605 1)" font-size="19" fill="#2a2012" stroke="#2a2012" stroke-width="0.35">Kirby</text>
<text transform="translate(170.40 842.00) scale(0.605 1)" font-size="19" fill="#2a2012" stroke="#2a2012" stroke-width="0.35">Zara Labrenz</text>
<text transform="translate(312.03 842.00) scale(0.570 1)" font-size="19" fill="#2a2012" stroke="#2a2012" stroke-width="0.35">31</text>
<text transform="translate(348.13 842.00) scale(0.570 1)" font-size="19" fill="#2a2012" stroke="#2a2012" stroke-width="0.35">31</text>
<text transform="translate(384.73 842.00) scale(0.570 1)" font-size="19" fill="#2a2012" stroke="#2a2012" stroke-width="0.35">31</text>
<text transform="translate(420.98 842.00) scale(0.570 1)" font-size="19" fill="#2a2012" stroke="#2a2012" stroke-width="0.35">31</text>
<text transform="translate(457.18 842.00) scale(0.570 1)" font-size="19" fill="#2a2012" stroke="#2a2012" stroke-width="0.35">31</text>
<text transform="translate(491.58 842.00) scale(0.570 1)" font-size="19" fill="#2a2012" stroke="#2a2012" stroke-width="0.35">31</text>
<text transform="translate(527.18 842.00) scale(0.570 1)" font-size="19" fill="#2a2012" stroke="#2a2012" stroke-width="0.35">31</text>
<text transform="translate(561.68 842.00) scale(0.570 1)" font-size="19" fill="#2a2012" stroke="#2a2012" stroke-width="0.35">31</text>
<text transform="translate(63.98 864.80) scale(0.570 1)" font-size="19" fill="#2a2012" stroke="#2a2012" stroke-width="0.35">32</text>
<text transform="translate(96.50 864.80) scale(0.605 1)" font-size="19" fill="#2a2012" stroke="#2a2012" stroke-width="0.35">Silla</text>
<text transform="translate(170.40 864.80) scale(0.605 1)" font-size="19" fill="#2a2012" stroke="#2a2012" stroke-width="0.35">Dean Reinke</text>
<text transform="translate(312.03 864.80) scale(0.570 1)" font-size="19" fill="#2a2012" stroke="#2a2012" stroke-width="0.35">32</text>
<text transform="translate(348.13 864.80) scale(0.570 1)" font-size="19" fill="#2a2012" stroke="#2a2012" stroke-width="0.35">32</text>
<text transform="translate(384.73 864.80) scale(0.570 1)" font-size="19" fill="#2a2012" stroke="#2a2012" stroke-width="0.35">32</text>
<text transform="translate(420.98 864.80) scale(0.570 1)" font-size="19" fill="#2a2012" stroke="#2a2012" stroke-width="0.35">32</text>
<text transform="translate(457.18 864.80) scale(0.570 1)" font-size="19" fill="#2a2012" stroke="#2a2012" stroke-width="0.35">32</text>
<text transform="translate(491.58 864.80) scale(0.570 1)" font-size="19" fill="#2a2012" stroke="#2a2012" stroke-width="0.35">32</text>
<text transform="translate(527.18 864.80) scale(0.570 1)" font-size="19" fill="#2a2012" stroke="#2a2012" stroke-width="0.35">32</text>
<text transform="translate(561.68 864.80) scale(0.570 1)" font-size="19" fill="#2a2012" stroke="#2a2012" stroke-width="0.35">32</text>
<text transform="translate(63.98 887.60) scale(0.570 1)" font-size="19" fill="#2a2012" stroke="#2a2012" stroke-width="0.35">33</text>
<text transform="translate(96.50 887.60) scale(0.605 1)" font-size="19" fill="#2a2012" stroke="#2a2012" stroke-width="0.35">Cache</text>
<text transform="translate(170.40 887.60) scale(0.605 1)" font-size="19" fill="#2a2012" stroke="#2a2012" stroke-width="0.35">Gary Riddle</text>
<text transform="translate(312.03 887.60) scale(0.570 1)" font-size="19" fill="#2a2012" stroke="#2a2012" stroke-width="0.35">33</text>
<text transform="translate(348.13 887.60) scale(0.570 1)" font-size="19" fill="#2a2012" stroke="#2a2012" stroke-width="0.35">33</text>
<text transform="translate(384.73 887.60) scale(0.570 1)" font-size="19" fill="#2a2012" stroke="#2a2012" stroke-width="0.35">33</text>
<text transform="translate(420.98 887.60) scale(0.570 1)" font-size="19" fill="#2a2012" stroke="#2a2012" stroke-width="0.35">33</text>
<text transform="translate(457.18 887.60) scale(0.570 1)" font-size="19" fill="#2a2012" stroke="#2a2012" stroke-width="0.35">33</text>
<text transform="translate(491.58 887.60) scale(0.570 1)" font-size="19" fill="#2a2012" stroke="#2a2012" stroke-width="0.35">33</text>
<text transform="translate(527.18 887.60) scale(0.570 1)" font-size="19" fill="#2a2012" stroke="#2a2012" stroke-width="0.35">33</text>
<text transform="translate(561.68 887.60) scale(0.570 1)" font-size="19" fill="#2a2012" stroke="#2a2012" stroke-width="0.35">33</text>
<text transform="translate(63.98 910.40) scale(0.570 1)" font-size="19" fill="#2a2012" stroke="#2a2012" stroke-width="0.35">34</text>
<text transform="translate(96.50 910.40) scale(0.605 1)" font-size="19" fill="#2a2012" stroke="#2a2012" stroke-width="0.35">Martin</text>
<text transform="translate(170.40 910.40) scale(0.605 1)" font-size="19" fill="#2a2012" stroke="#2a2012" stroke-width="0.35">Hannah Hayes</text>
<text transform="translate(312.03 910.40) scale(0.570 1)" font-size="19" fill="#2a2012" stroke="#2a2012" stroke-width="0.35">34</text>
<text transform="translate(348.13 910.40) scale(0.570 1)" font-size="19" fill="#2a2012" stroke="#2a2012" stroke-width="0.35">34</text>
<text transform="translate(384.73 910.40) scale(0.570 1)" font-size="19" fill="#2a2012" stroke="#2a2012" stroke-width="0.35">34</text>
<text transform="translate(420.98 910.40) scale(0.570 1)" font-size="19" fill="#2a2012" stroke="#2a2012" stroke-width="0.35">34</text>
<text transform="translate(457.18 910.40) scale(0.570 1)" font-size="19" fill="#2a2012" stroke="#2a2012" stroke-width="0.35">34</text>
<text transform="translate(491.58 910.40) scale(0.570 1)" font-size="19" fill="#2a2012" stroke="#2a2012" stroke-width="0.35">34</text>
<text transform="translate(527.18 910.40) scale(0.570 1)" font-size="19" fill="#2a2012" stroke="#2a2012" stroke-width="0.35">34</text>
<text transform="translate(561.68 910.40) scale(0.570 1)" font-size="19" fill="#2a2012" stroke="#2a2012" stroke-width="0.35">34</text>
<text transform="translate(63.98 933.20) scale(0.570 1)" font-size="19" fill="#2a2012" stroke="#2a2012" stroke-width="0.35">35</text>
<text transform="translate(96.50 933.20) scale(0.605 1)" font-size="19" fill="#2a2012" stroke="#2a2012" stroke-width="0.35">Levi</text>
<text transform="translate(170.40 933.20) scale(0.605 1)" font-size="19" fill="#2a2012" stroke="#2a2012" stroke-width="0.35">Will Pick</text>
<text transform="translate(312.03 933.20) scale(0.570 1)" font-size="19" fill="#2a2012" stroke="#2a2012" stroke-width="0.35">35</text>
<text transform="translate(348.13 933.20) scale(0.570 1)" font-size="19" fill="#2a2012" stroke="#2a2012" stroke-width="0.35">35</text>
<text transform="translate(384.73 933.20) scale(0.570 1)" font-size="19" fill="#2a2012" stroke="#2a2012" stroke-width="0.35">35</text>
<text transform="translate(420.98 933.20) scale(0.570 1)" font-size="19" fill="#2a2012" stroke="#2a2012" stroke-width="0.35">35</text>
<text transform="translate(457.18 933.20) scale(0.570 1)" font-size="19" fill="#2a2012" stroke="#2a2012" stroke-width="0.35">35</text>
<text transform="translate(491.58 933.20) scale(0.570 1)" font-size="19" fill="#2a2012" stroke="#2a2012" stroke-width="0.35">35</text>
<text transform="translate(527.18 933.20) scale(0.570 1)" font-size="19" fill="#2a2012" stroke="#2a2012" stroke-width="0.35">35</text>
<text transform="translate(561.68 933.20) scale(0.570 1)" font-size="19" fill="#2a2012" stroke="#2a2012" stroke-width="0.35">35</text>
<text transform="translate(63.98 956.00) scale(0.570 1)" font-size="19" fill="#2a2012" stroke="#2a2012" stroke-width="0.35">36</text>
<text transform="translate(96.50 956.00) scale(0.605 1)" font-size="19" fill="#2a2012" stroke="#2a2012" stroke-width="0.35">Blush</text>
<text transform="translate(170.40 956.00) scale(0.605 1)" font-size="19" fill="#2a2012" stroke="#2a2012" stroke-width="0.35">Amelia Baxter</text>
<text transform="translate(312.03 956.00) scale(0.570 1)" font-size="19" fill="#2a2012" stroke="#2a2012" stroke-width="0.35">36</text>
<text transform="translate(348.13 956.00) scale(0.570 1)" font-size="19" fill="#2a2012" stroke="#2a2012" stroke-width="0.35">36</text>
<text transform="translate(384.73 956.00) scale(0.570 1)" font-size="19" fill="#2a2012" stroke="#2a2012" stroke-width="0.35">36</text>
<text transform="translate(420.98 956.00) scale(0.570 1)" font-size="19" fill="#2a2012" stroke="#2a2012" stroke-width="0.35">36</text>
<text transform="translate(457.18 956.00) scale(0.570 1)" font-size="19" fill="#2a2012" stroke="#2a2012" stroke-width="0.35">36</text>
<text transform="translate(491.58 956.00) scale(0.570 1)" font-size="19" fill="#2a2012" stroke="#2a2012" stroke-width="0.35">36</text>
<text transform="translate(527.18 956.00) scale(0.570 1)" font-size="19" fill="#2a2012" stroke="#2a2012" stroke-width="0.35">36</text>
<text transform="translate(561.68 956.00) scale(0.570 1)" font-size="19" fill="#2a2012" stroke="#2a2012" stroke-width="0.35">36</text>
<text transform="translate(63.98 978.80) scale(0.570 1)" font-size="19" fill="#2a2012" stroke="#2a2012" stroke-width="0.35">37</text>
<text transform="translate(96.50 978.80) scale(0.605 1)" font-size="19" fill="#2a2012" stroke="#2a2012" stroke-width="0.35">Atlas</text>
<text transform="translate(170.40 978.80) scale(0.605 1)" font-size="19" fill="#2a2012" stroke="#2a2012" stroke-width="0.35">Drew Corthell</text>
<text transform="translate(312.03 978.80) scale(0.570 1)" font-size="19" fill="#2a2012" stroke="#2a2012" stroke-width="0.35">37</text>
<text transform="translate(348.13 978.80) scale(0.570 1)" font-size="19" fill="#2a2012" stroke="#2a2012" stroke-width="0.35">37</text>
<text transform="translate(384.73 978.80) scale(0.570 1)" font-size="19" fill="#2a2012" stroke="#2a2012" stroke-width="0.35">37</text>
<text transform="translate(420.98 978.80) scale(0.570 1)" font-size="19" fill="#2a2012" stroke="#2a2012" stroke-width="0.35">37</text>
<text transform="translate(457.18 978.80) scale(0.570 1)" font-size="19" fill="#2a2012" stroke="#2a2012" stroke-width="0.35">37</text>
<text transform="translate(491.58 978.80) scale(0.570 1)" font-size="19" fill="#2a2012" stroke="#2a2012" stroke-width="0.35">37</text>
<text transform="translate(527.18 978.80) scale(0.570 1)" font-size="19" fill="#2a2012" stroke="#2a2012" stroke-width="0.35">37</text>
<text transform="translate(561.68 978.80) scale(0.570 1)" font-size="19" fill="#2a2012" stroke="#2a2012" stroke-width="0.35">37</text>
<text transform="translate(63.98 1001.60) scale(0.570 1)" font-size="19" fill="#2a2012" stroke="#2a2012" stroke-width="0.35">38</text>
<text transform="translate(96.50 1001.60) scale(0.605 1)" font-size="19" fill="#2a2012" stroke="#2a2012" stroke-width="0.35">Wyatt</text>
<text transform="translate(170.40 1001.60) scale(0.605 1)" font-size="19" fill="#2a2012" stroke="#2a2012" stroke-width="0.35">Jeffrey Miller</text>
<text transform="translate(312.03 1001.60) scale(0.570 1)" font-size="19" fill="#2a2012" stroke="#2a2012" stroke-width="0.35">38</text>
<text transform="translate(348.13 1001.60) scale(0.570 1)" font-size="19" fill="#2a2012" stroke="#2a2012" stroke-width="0.35">38</text>
<text transform="translate(384.73 1001.60) scale(0.570 1)" font-size="19" fill="#2a2012" stroke="#2a2012" stroke-width="0.35">38</text>
<text transform="translate(420.98 1001.60) scale(0.570 1)" font-size="19" fill="#2a2012" stroke="#2a2012" stroke-width="0.35">38</text>
<text transform="translate(457.18 1001.60) scale(0.570 1)" font-size="19" fill="#2a2012" stroke="#2a2012" stroke-width="0.35">38</text>
<text transform="translate(491.58 1001.60) scale(0.570 1)" font-size="19" fill="#2a2012" stroke="#2a2012" stroke-width="0.35">38</text>
<text transform="translate(527.18 1001.60) scale(0.570 1)" font-size="19" fill="#2a2012" stroke="#2a2012" stroke-width="0.35">38</text>
<text transform="translate(561.68 1001.60) scale(0.570 1)" font-size="19" fill="#2a2012" stroke="#2a2012" stroke-width="0.35">38</text>
<text transform="translate(63.98 1024.40) scale(0.570 1)" font-size="19" fill="#2a2012" stroke="#2a2012" stroke-width="0.35">39</text>
<text transform="translate(96.50 1024.40) scale(0.605 1)" font-size="19" fill="#2a2012" stroke="#2a2012" stroke-width="0.35">Ted</text>
<text transform="translate(170.40 1024.40) scale(0.605 1)" font-size="19" fill="#2a2012" stroke="#2a2012" stroke-width="0.35">Dan Murray</text>
<text transform="translate(312.03 1024.40) scale(0.570 1)" font-size="19" fill="#2a2012" stroke="#2a2012" stroke-width="0.35">39</text>
<text transform="translate(348.13 1024.40) scale(0.570 1)" font-size="19" fill="#2a2012" stroke="#2a2012" stroke-width="0.35">39</text>
<text transform="translate(384.73 1024.40) scale(0.570 1)" font-size="19" fill="#2a2012" stroke="#2a2012" stroke-width="0.35">39</text>
<text transform="translate(420.98 1024.40) scale(0.570 1)" font-size="19" fill="#2a2012" stroke="#2a2012" stroke-width="0.35">39</text>
<text transform="translate(457.18 1024.40) scale(0.570 1)" font-size="19" fill="#2a2012" stroke="#2a2012" stroke-width="0.35">39</text>
<text transform="translate(491.58 1024.40) scale(0.570 1)" font-size="19" fill="#2a2012" stroke="#2a2012" stroke-width="0.35">39</text>
<text transform="translate(527.18 1024.40) scale(0.570 1)" font-size="19" fill="#2a2012" stroke="#2a2012" stroke-width="0.35">39</text>
<text transform="translate(561.68 1024.40) scale(0.570 1)" font-size="19" fill="#2a2012" stroke="#2a2012" stroke-width="0.35">39</text>
<ellipse cx="354.25" cy="156.40" rx="12.0" ry="13.4" stroke="#10282a" stroke-width="3.5" fill="none"/>
<ellipse cx="391.85" cy="155.20" rx="12.0" ry="13.4" stroke="#10282a" stroke-width="3.5" fill="none"/>
<ellipse cx="499.50" cy="151.80" rx="12.0" ry="13.4" stroke="#10282a" stroke-width="3.5" fill="none"/>
<ellipse cx="318.25" cy="176.50" rx="12.0" ry="13.4" stroke="#10282a" stroke-width="3.5" fill="none"/>
<ellipse cx="427.50" cy="175.70" rx="12.0" ry="13.4" stroke="#10282a" stroke-width="3.5" fill="none"/>
<ellipse cx="355.15" cy="199.80" rx="12.0" ry="13.4" stroke="#10282a" stroke-width="3.5" fill="none"/>
<ellipse cx="392.85" cy="199.80" rx="12.0" ry="13.4" stroke="#10282a" stroke-width="3.5" fill="none"/>
<ellipse cx="499.50" cy="197.40" rx="12.0" ry="13.4" stroke="#10282a" stroke-width="3.5" fill="none"/>
<ellipse cx="318.30" cy="222.40" rx="12.0" ry="13.4" stroke="#10282a" stroke-width="3.5" fill="none"/>
<ellipse cx="355.10" cy="245.22" rx="12.0" ry="13.4" stroke="#10282a" stroke-width="3.5" fill="none"/>
<ellipse cx="392.93" cy="244.97" rx="12.0" ry="13.4" stroke="#10282a" stroke-width="3.5" fill="none"/>
<ellipse cx="499.50" cy="243.00" rx="12.0" ry="13.4" stroke="#10282a" stroke-width="3.5" fill="none"/>
<ellipse cx="318.35" cy="268.30" rx="12.0" ry="13.4" stroke="#10282a" stroke-width="3.5" fill="none"/>
<ellipse cx="355.05" cy="290.65" rx="12.0" ry="13.4" stroke="#10282a" stroke-width="3.5" fill="none"/>
<ellipse cx="318.40" cy="314.20" rx="12.0" ry="13.4" stroke="#10282a" stroke-width="3.5" fill="none"/>
<ellipse cx="427.70" cy="310.20" rx="12.0" ry="13.4" stroke="#10282a" stroke-width="3.5" fill="none"/>
<ellipse cx="464.40" cy="309.00" rx="12.0" ry="13.4" stroke="#10282a" stroke-width="3.5" fill="none"/>
<ellipse cx="355.00" cy="336.08" rx="12.0" ry="13.4" stroke="#10282a" stroke-width="3.5" fill="none"/>
<ellipse cx="393.07" cy="335.33" rx="12.0" ry="13.4" stroke="#10282a" stroke-width="3.5" fill="none"/>
<ellipse cx="499.50" cy="334.20" rx="12.0" ry="13.4" stroke="#10282a" stroke-width="3.5" fill="none"/>
<ellipse cx="318.45" cy="360.10" rx="12.0" ry="13.4" stroke="#10282a" stroke-width="3.5" fill="none"/>
<ellipse cx="430.70" cy="359.40" rx="12.0" ry="13.4" stroke="#10282a" stroke-width="3.5" fill="none"/>
<ellipse cx="354.95" cy="381.50" rx="12.0" ry="13.4" stroke="#10282a" stroke-width="3.5" fill="none"/>
<ellipse cx="393.15" cy="380.50" rx="12.0" ry="13.4" stroke="#10282a" stroke-width="3.5" fill="none"/>
<ellipse cx="499.50" cy="379.80" rx="12.0" ry="13.4" stroke="#10282a" stroke-width="3.5" fill="none"/>
<ellipse cx="318.45" cy="405.90" rx="12.0" ry="13.4" stroke="#10282a" stroke-width="3.5" fill="none"/>
<ellipse cx="354.95" cy="426.08" rx="12.0" ry="13.4" stroke="#10282a" stroke-width="3.5" fill="none"/>
<ellipse cx="392.95" cy="425.18" rx="12.0" ry="13.4" stroke="#10282a" stroke-width="3.5" fill="none"/>
<ellipse cx="499.33" cy="424.45" rx="12.0" ry="13.4" stroke="#10282a" stroke-width="3.5" fill="none"/>
<ellipse cx="318.22" cy="450.20" rx="12.0" ry="13.4" stroke="#10282a" stroke-width="3.5" fill="none"/>
<ellipse cx="354.95" cy="470.65" rx="12.0" ry="13.4" stroke="#10282a" stroke-width="3.5" fill="none"/>
<ellipse cx="392.75" cy="469.85" rx="12.0" ry="13.4" stroke="#10282a" stroke-width="3.5" fill="none"/>
<ellipse cx="499.15" cy="469.10" rx="12.0" ry="13.4" stroke="#10282a" stroke-width="3.5" fill="none"/>
<ellipse cx="317.98" cy="494.50" rx="12.0" ry="13.4" stroke="#10282a" stroke-width="3.5" fill="none"/>
<ellipse cx="354.95" cy="515.23" rx="12.0" ry="13.4" stroke="#10282a" stroke-width="3.5" fill="none"/>
<ellipse cx="392.55" cy="514.52" rx="12.0" ry="13.4" stroke="#10282a" stroke-width="3.5" fill="none"/>
<ellipse cx="498.98" cy="513.75" rx="12.0" ry="13.4" stroke="#10282a" stroke-width="3.5" fill="none"/>
<ellipse cx="317.75" cy="538.80" rx="12.0" ry="13.4" stroke="#10282a" stroke-width="3.5" fill="none"/>
<ellipse cx="354.95" cy="559.80" rx="12.0" ry="13.4" stroke="#10282a" stroke-width="3.5" fill="none"/>
<ellipse cx="392.35" cy="559.20" rx="12.0" ry="13.4" stroke="#10282a" stroke-width="3.5" fill="none"/>
<ellipse cx="498.80" cy="558.40" rx="12.0" ry="13.4" stroke="#10282a" stroke-width="3.5" fill="none"/>
<ellipse cx="316.95" cy="584.20" rx="12.0" ry="13.4" stroke="#10282a" stroke-width="3.5" fill="none"/>
<ellipse cx="354.72" cy="605.15" rx="12.0" ry="13.4" stroke="#10282a" stroke-width="3.5" fill="none"/>
<ellipse cx="392.30" cy="604.03" rx="12.0" ry="13.4" stroke="#10282a" stroke-width="3.5" fill="none"/>
<ellipse cx="498.65" cy="603.35" rx="12.0" ry="13.4" stroke="#10282a" stroke-width="3.5" fill="none"/>
<ellipse cx="317.15" cy="629.65" rx="12.0" ry="13.4" stroke="#10282a" stroke-width="3.5" fill="none"/>
<ellipse cx="354.50" cy="650.50" rx="12.0" ry="13.4" stroke="#10282a" stroke-width="3.5" fill="none"/>
<ellipse cx="392.25" cy="648.85" rx="12.0" ry="13.4" stroke="#10282a" stroke-width="3.5" fill="none"/>
<ellipse cx="498.50" cy="648.30" rx="12.0" ry="13.4" stroke="#10282a" stroke-width="3.5" fill="none"/>
<ellipse cx="317.00" cy="675.15" rx="12.0" ry="13.4" stroke="#10282a" stroke-width="3.5" fill="none"/>
<ellipse cx="429.20" cy="674.30" rx="12.0" ry="13.4" stroke="#10282a" stroke-width="3.5" fill="none"/>
<ellipse cx="465.90" cy="672.70" rx="12.0" ry="13.4" stroke="#10282a" stroke-width="3.5" fill="none"/>
<ellipse cx="352.67" cy="698.65" rx="12.0" ry="13.4" stroke="#10282a" stroke-width="3.5" fill="none"/>
<ellipse cx="390.40" cy="697.27" rx="12.0" ry="13.4" stroke="#10282a" stroke-width="3.5" fill="none"/>
<ellipse cx="496.45" cy="696.55" rx="12.0" ry="13.4" stroke="#10282a" stroke-width="3.5" fill="none"/>
<ellipse cx="313.75" cy="725.80" rx="12.0" ry="13.4" stroke="#10282a" stroke-width="3.5" fill="none"/>
<ellipse cx="350.85" cy="746.80" rx="12.0" ry="13.4" stroke="#10282a" stroke-width="3.5" fill="none"/>
<ellipse cx="388.55" cy="745.70" rx="12.0" ry="13.4" stroke="#10282a" stroke-width="3.5" fill="none"/>
<ellipse cx="494.40" cy="744.80" rx="12.0" ry="13.4" stroke="#10282a" stroke-width="3.5" fill="none"/>
<ellipse cx="315.35" cy="767.70" rx="12.0" ry="13.4" stroke="#10282a" stroke-width="3.5" fill="none"/>
<ellipse cx="426.90" cy="766.80" rx="12.0" ry="13.4" stroke="#10282a" stroke-width="3.5" fill="none"/>
<ellipse cx="464.50" cy="765.20" rx="12.0" ry="13.4" stroke="#10282a" stroke-width="3.5" fill="none"/>
<ellipse cx="351.10" cy="792.20" rx="12.0" ry="13.4" stroke="#10282a" stroke-width="3.5" fill="none"/>
<ellipse cx="388.80" cy="791.17" rx="12.0" ry="13.4" stroke="#10282a" stroke-width="3.5" fill="none"/>
<ellipse cx="315.27" cy="813.80" rx="12.0" ry="13.4" stroke="#10282a" stroke-width="3.5" fill="none"/>
<ellipse cx="426.86" cy="812.88" rx="12.0" ry="13.4" stroke="#10282a" stroke-width="3.5" fill="none"/>
<ellipse cx="464.50" cy="811.16" rx="12.0" ry="13.4" stroke="#10282a" stroke-width="3.5" fill="none"/>
<ellipse cx="351.35" cy="837.60" rx="12.0" ry="13.4" stroke="#10282a" stroke-width="3.5" fill="none"/>
<ellipse cx="389.05" cy="836.63" rx="12.0" ry="13.4" stroke="#10282a" stroke-width="3.5" fill="none"/>
<ellipse cx="315.19" cy="859.90" rx="12.0" ry="13.4" stroke="#10282a" stroke-width="3.5" fill="none"/>
<ellipse cx="426.82" cy="858.96" rx="12.0" ry="13.4" stroke="#10282a" stroke-width="3.5" fill="none"/>
<ellipse cx="464.50" cy="857.12" rx="12.0" ry="13.4" stroke="#10282a" stroke-width="3.5" fill="none"/>
<ellipse cx="351.60" cy="883.00" rx="12.0" ry="13.4" stroke="#10282a" stroke-width="3.5" fill="none"/>
<ellipse cx="389.30" cy="882.10" rx="12.0" ry="13.4" stroke="#10282a" stroke-width="3.5" fill="none"/>
<ellipse cx="495.25" cy="881.35" rx="12.0" ry="13.4" stroke="#10282a" stroke-width="3.5" fill="none"/>
<ellipse cx="315.11" cy="906.00" rx="12.0" ry="13.4" stroke="#10282a" stroke-width="3.5" fill="none"/>
<ellipse cx="426.78" cy="905.04" rx="12.0" ry="13.4" stroke="#10282a" stroke-width="3.5" fill="none"/>
<ellipse cx="464.50" cy="903.08" rx="12.0" ry="13.4" stroke="#10282a" stroke-width="3.5" fill="none"/>
<ellipse cx="351.85" cy="928.40" rx="12.0" ry="13.4" stroke="#10282a" stroke-width="3.5" fill="none"/>
<ellipse cx="389.55" cy="927.57" rx="12.0" ry="13.4" stroke="#10282a" stroke-width="3.5" fill="none"/>
<ellipse cx="495.53" cy="926.87" rx="12.0" ry="13.4" stroke="#10282a" stroke-width="3.5" fill="none"/>
<ellipse cx="315.03" cy="952.10" rx="12.0" ry="13.4" stroke="#10282a" stroke-width="3.5" fill="none"/>
<ellipse cx="426.74" cy="951.12" rx="12.0" ry="13.4" stroke="#10282a" stroke-width="3.5" fill="none"/>
<ellipse cx="464.50" cy="949.04" rx="12.0" ry="13.4" stroke="#10282a" stroke-width="3.5" fill="none"/>
<ellipse cx="352.10" cy="973.80" rx="12.0" ry="13.4" stroke="#10282a" stroke-width="3.5" fill="none"/>
<ellipse cx="314.95" cy="998.20" rx="12.0" ry="13.4" stroke="#10282a" stroke-width="3.5" fill="none"/>
<ellipse cx="426.70" cy="997.20" rx="12.0" ry="13.4" stroke="#10282a" stroke-width="3.5" fill="none"/>
<ellipse cx="464.50" cy="995.00" rx="12.0" ry="13.4" stroke="#10282a" stroke-width="3.5" fill="none"/>
<ellipse cx="352.35" cy="1019.20" rx="12.0" ry="13.4" stroke="#10282a" stroke-width="3.5" fill="none"/>
<ellipse cx="390.05" cy="1018.50" rx="12.0" ry="13.4" stroke="#10282a" stroke-width="3.5" fill="none"/>
<ellipse cx="496.10" cy="1017.90" rx="12.0" ry="13.4" stroke="#10282a" stroke-width="3.5" fill="none"/>
</g>
<g transform="rotate(0.12 903 575)">
<rect x="634.2" y="142.10" width="536.50" height="23.10" fill="url(#shade)"/>
<rect x="634.2" y="188.30" width="536.50" height="23.10" fill="url(#shade)"/>
<rect x="634.2" y="234.50" width="536.50" height="23.10" fill="url(#shade)"/>
<rect x="634.2" y="280.70" width="536.50" height="23.10" fill="url(#shade)"/>
<rect x="634.2" y="326.90" width="536.50" height="23.10" fill="url(#shade)"/>
<rect x="634.2" y="373.10" width="536.50" height="23.10" fill="url(#shade)"/>
<rect x="634.2" y="419.30" width="536.50" height="23.10" fill="url(#shade)"/>
<rect x="634.2" y="466.92" width="536.50" height="24.52" fill="url(#shade)"/>
<rect x="634.2" y="515.96" width="536.50" height="24.52" fill="url(#shade)"/>
<rect x="634.2" y="565.00" width="536.50" height="24.52" fill="url(#shade)"/>
<rect x="634.2" y="614.04" width="536.50" height="24.52" fill="url(#shade)"/>
<rect x="634.2" y="663.08" width="536.50" height="24.52" fill="url(#shade)"/>
<rect x="634.2" y="712.12" width="536.50" height="24.52" fill="url(#shade)"/>
<rect x="634.2" y="761.16" width="536.50" height="24.52" fill="url(#shade)"/>
<rect x="634.2" y="810.20" width="536.50" height="24.52" fill="url(#shade)"/>
<rect x="634.2" y="859.24" width="536.50" height="24.52" fill="url(#shade)"/>
<rect x="634.2" y="908.28" width="536.50" height="24.52" fill="url(#shade)"/>
<rect x="634.2" y="957.32" width="536.50" height="24.52" fill="url(#shade)"/>
<rect x="634.2" y="1006.36" width="536.50" height="24.52" fill="url(#shade)"/>
<path d="M633.40 118.60H1171.50 M633.40 142.10H1171.50 M633.40 165.20H1171.50 M633.40 188.30H1171.50 M633.40 211.40H1171.50 M633.40 234.50H1171.50 M633.40 257.60H1171.50 M633.40 280.70H1171.50 M633.40 303.80H1171.50 M633.40 326.90H1171.50 M633.40 350.00H1171.50 M633.40 373.10H1171.50 M633.40 396.20H1171.50 M633.40 419.30H1171.50 M633.40 442.40H1171.50 M633.40 466.92H1171.50 M633.40 491.44H1171.50 M633.40 515.96H1171.50 M633.40 540.48H1171.50 M633.40 565.00H1171.50 M633.40 589.52H1171.50 M633.40 614.04H1171.50 M633.40 638.56H1171.50 M633.40 663.08H1171.50 M633.40 687.60H1171.50 M633.40 712.12H1171.50 M633.40 736.64H1171.50 M633.40 761.16H1171.50 M633.40 785.68H1171.50 M633.40 810.20H1171.50 M633.40 834.72H1171.50 M633.40 859.24H1171.50 M633.40 883.76H1171.50 M633.40 908.28H1171.50 M633.40 932.80H1171.50 M633.40 957.32H1171.50 M633.40 981.84H1171.50 M633.40 1006.36H1171.50 M633.40 1030.88H1171.50 M634.20 118.60V1030.88 M680.20 118.60V1030.88 M753.60 118.60V1030.88 M888.20 118.60V1030.88 M921.60 118.60V1030.88 M959.90 118.60V1030.88 M993.50 118.60V1030.88 M1032.00 118.60V1030.88 M1066.20 118.60V1030.88 M1101.20 118.60V1030.88 M1137.40 118.60V1030.88 M1170.70 118.60V1030.88" stroke="#33240e" stroke-width="1.55" fill="none"/>
<text transform="translate(914.00 111.60) scale(0.580 1)" font-size="19.5" font-weight="bold" fill="#2a2012" stroke="#1e160a" stroke-width="0.75">2nd</text>
<text transform="translate(987.15 111.60) scale(0.580 1)" font-size="19.5" font-weight="bold" fill="#2a2012" stroke="#1e160a" stroke-width="0.75">3rd</text>
<text transform="translate(1058.12 111.60) scale(0.580 1)" font-size="19.5" font-weight="bold" fill="#2a2012" stroke="#1e160a" stroke-width="0.75">4th</text>
<text transform="translate(1103.80 111.60) scale(0.580 1)" font-size="19.5" font-weight="bold" fill="#2a2012" stroke="#1e160a" stroke-width="0.75">Water</text>
<text transform="translate(1145.57 111.60) scale(0.580 1)" font-size="19.5" font-weight="bold" fill="#2a2012" stroke="#1e160a" stroke-width="0.75">5th</text>
<text transform="translate(654.27 134.80) scale(0.620 1)" font-size="17" font-weight="bold" fill="#2a2012" stroke="#1e160a" stroke-width="0.75">#</text>
<text transform="translate(690.67 134.80) scale(0.620 1)" font-size="17.5" font-weight="bold" fill="#2a2012" stroke="#1e160a" stroke-width="0.75">Call Name</text>
<text transform="translate(801.03 134.80) scale(0.610 1)" font-size="17.5" font-weight="bold" fill="#2a2012" stroke="#1e160a" stroke-width="0.75">Handler</text>
<text transform="translate(891.60 136.10) scale(0.550 1)" font-size="15" font-weight="bold" fill="#2a2012" stroke="#1e160a" stroke-width="0.75">Savoie</text>
<text transform="translate(926.31 136.10) scale(0.550 1)" font-size="15" font-weight="bold" fill="#2a2012" stroke="#1e160a" stroke-width="0.75">Shively</text>
<text transform="translate(963.40 136.10) scale(0.550 1)" font-size="15" font-weight="bold" fill="#2a2012" stroke="#1e160a" stroke-width="0.75">Savoie</text>
<text transform="translate(998.31 136.10) scale(0.550 1)" font-size="15" font-weight="bold" fill="#2a2012" stroke="#1e160a" stroke-width="0.75">Shively</text>
<text transform="translate(1035.80 136.10) scale(0.550 1)" font-size="15" font-weight="bold" fill="#2a2012" stroke="#1e160a" stroke-width="0.75">Savoie</text>
<text transform="translate(1069.26 136.10) scale(0.550 1)" font-size="15" font-weight="bold" fill="#2a2012" stroke="#1e160a" stroke-width="0.75">Shively</text>
<text transform="translate(651.18 158.60) scale(0.570 1)" font-size="19" fill="#2a2012" stroke="#2a2012" stroke-width="0.35">40</text>
<text transform="translate(683.20 158.60) scale(0.605 1)" font-size="19" fill="#2a2012" stroke="#2a2012" stroke-width="0.35">Dreams</text>
<text transform="translate(756.60 158.60) scale(0.605 1)" font-size="19" fill="#2a2012" stroke="#2a2012" stroke-width="0.35">Clay Earl</text>
<text transform="translate(898.88 158.60) scale(0.570 1)" font-size="19" fill="#2a2012" stroke="#2a2012" stroke-width="0.35">40</text>
<text transform="translate(934.73 158.60) scale(0.570 1)" font-size="19" fill="#2a2012" stroke="#2a2012" stroke-width="0.35">40</text>
<text transform="translate(970.68 158.60) scale(0.570 1)" font-size="19" fill="#2a2012" stroke="#2a2012" stroke-width="0.35">40</text>
<text transform="translate(1006.73 158.60) scale(0.570 1)" font-size="19" fill="#2a2012" stroke="#2a2012" stroke-width="0.35">40</text>
<text transform="translate(1043.08 158.60) scale(0.570 1)" font-size="19" fill="#2a2012" stroke="#2a2012" stroke-width="0.35">40</text>
<text transform="translate(1077.68 158.60) scale(0.570 1)" font-size="19" fill="#2a2012" stroke="#2a2012" stroke-width="0.35">40</text>
<text transform="translate(1113.28 158.60) scale(0.570 1)" font-size="19" fill="#2a2012" stroke="#2a2012" stroke-width="0.35">40</text>
<text transform="translate(1148.03 158.60) scale(0.570 1)" font-size="19" fill="#2a2012" stroke="#2a2012" stroke-width="0.35">40</text>
<text transform="translate(651.18 181.70) scale(0.570 1)" font-size="19" fill="#2a2012" stroke="#2a2012" stroke-width="0.35">41</text>
<text transform="translate(683.20 181.70) scale(0.605 1)" font-size="19" fill="#2a2012" stroke="#2a2012" stroke-width="0.35">Raven</text>
<text transform="translate(756.60 181.70) scale(0.605 1)" font-size="19" fill="#2a2012" stroke="#2a2012" stroke-width="0.35">Jim Keller/Deanna Keller</text>
<text transform="translate(898.88 181.70) scale(0.570 1)" font-size="19" fill="#2a2012" stroke="#2a2012" stroke-width="0.35">41</text>
<text transform="translate(934.73 181.70) scale(0.570 1)" font-size="19" fill="#2a2012" stroke="#2a2012" stroke-width="0.35">41</text>
<text transform="translate(970.68 181.70) scale(0.570 1)" font-size="19" fill="#2a2012" stroke="#2a2012" stroke-width="0.35">41</text>
<text transform="translate(1006.73 181.70) scale(0.570 1)" font-size="19" fill="#2a2012" stroke="#2a2012" stroke-width="0.35">41</text>
<text transform="translate(1043.08 181.70) scale(0.570 1)" font-size="19" fill="#2a2012" stroke="#2a2012" stroke-width="0.35">41</text>
<text transform="translate(1077.68 181.70) scale(0.570 1)" font-size="19" fill="#2a2012" stroke="#2a2012" stroke-width="0.35">41</text>
<text transform="translate(1113.28 181.70) scale(0.570 1)" font-size="19" fill="#2a2012" stroke="#2a2012" stroke-width="0.35">41</text>
<text transform="translate(1148.03 181.70) scale(0.570 1)" font-size="19" fill="#2a2012" stroke="#2a2012" stroke-width="0.35">41</text>
<text transform="translate(651.18 204.80) scale(0.570 1)" font-size="19" fill="#2a2012" stroke="#2a2012" stroke-width="0.35">42</text>
<text transform="translate(683.20 204.80) scale(0.605 1)" font-size="19" fill="#2a2012" stroke="#2a2012" stroke-width="0.35">Elmo</text>
<text transform="translate(756.60 204.80) scale(0.605 1)" font-size="19" fill="#2a2012" stroke="#2a2012" stroke-width="0.35">Tom Ness</text>
<text transform="translate(898.88 204.80) scale(0.570 1)" font-size="19" fill="#2a2012" stroke="#2a2012" stroke-width="0.35">42</text>
<text transform="translate(934.73 204.80) scale(0.570 1)" font-size="19" fill="#2a2012" stroke="#2a2012" stroke-width="0.35">42</text>
<text transform="translate(970.68 204.80) scale(0.570 1)" font-size="19" fill="#2a2012" stroke="#2a2012" stroke-width="0.35">42</text>
<text transform="translate(1006.73 204.80) scale(0.570 1)" font-size="19" fill="#2a2012" stroke="#2a2012" stroke-width="0.35">42</text>
<text transform="translate(1043.08 204.80) scale(0.570 1)" font-size="19" fill="#2a2012" stroke="#2a2012" stroke-width="0.35">42</text>
<text transform="translate(1077.68 204.80) scale(0.570 1)" font-size="19" fill="#2a2012" stroke="#2a2012" stroke-width="0.35">42</text>
<text transform="translate(1113.28 204.80) scale(0.570 1)" font-size="19" fill="#2a2012" stroke="#2a2012" stroke-width="0.35">42</text>
<text transform="translate(1148.03 204.80) scale(0.570 1)" font-size="19" fill="#2a2012" stroke="#2a2012" stroke-width="0.35">42</text>
<text transform="translate(651.18 227.90) scale(0.570 1)" font-size="19" fill="#2a2012" stroke="#2a2012" stroke-width="0.35">43</text>
<text transform="translate(683.20 227.90) scale(0.605 1)" font-size="19" fill="#2a2012" stroke="#2a2012" stroke-width="0.35">Tudor</text>
<text transform="translate(756.60 227.90) scale(0.605 1)" font-size="19" fill="#2a2012" stroke="#2a2012" stroke-width="0.35">Mike Wallace</text>
<text transform="translate(898.88 227.90) scale(0.570 1)" font-size="19" fill="#2a2012" stroke="#2a2012" stroke-width="0.35">43</text>
<text transform="translate(934.73 227.90) scale(0.570 1)" font-size="19" fill="#2a2012" stroke="#2a2012" stroke-width="0.35">43</text>
<text transform="translate(970.68 227.90) scale(0.570 1)" font-size="19" fill="#2a2012" stroke="#2a2012" stroke-width="0.35">43</text>
<text transform="translate(1006.73 227.90) scale(0.570 1)" font-size="19" fill="#2a2012" stroke="#2a2012" stroke-width="0.35">43</text>
<text transform="translate(1043.08 227.90) scale(0.570 1)" font-size="19" fill="#2a2012" stroke="#2a2012" stroke-width="0.35">43</text>
<text transform="translate(1077.68 227.90) scale(0.570 1)" font-size="19" fill="#2a2012" stroke="#2a2012" stroke-width="0.35">43</text>
<text transform="translate(1113.28 227.90) scale(0.570 1)" font-size="19" fill="#2a2012" stroke="#2a2012" stroke-width="0.35">43</text>
<text transform="translate(1148.03 227.90) scale(0.570 1)" font-size="19" fill="#2a2012" stroke="#2a2012" stroke-width="0.35">43</text>
<text transform="translate(651.18 251.00) scale(0.570 1)" font-size="19" fill="#2a2012" stroke="#2a2012" stroke-width="0.35">44</text>
<text transform="translate(683.20 251.00) scale(0.605 1)" font-size="19" fill="#2a2012" stroke="#2a2012" stroke-width="0.35">Monty</text>
<text transform="translate(756.60 251.00) scale(0.605 1)" font-size="19" fill="#2a2012" stroke="#2a2012" stroke-width="0.35">David Flint</text>
<text transform="translate(898.88 251.00) scale(0.570 1)" font-size="19" fill="#2a2012" stroke="#2a2012" stroke-width="0.35">44</text>
<text transform="translate(934.73 251.00) scale(0.570 1)" font-size="19" fill="#2a2012" stroke="#2a2012" stroke-width="0.35">44</text>
<text transform="translate(970.68 251.00) scale(0.570 1)" font-size="19" fill="#2a2012" stroke="#2a2012" stroke-width="0.35">44</text>
<text transform="translate(1006.73 251.00) scale(0.570 1)" font-size="19" fill="#2a2012" stroke="#2a2012" stroke-width="0.35">44</text>
<text transform="translate(1043.08 251.00) scale(0.570 1)" font-size="19" fill="#2a2012" stroke="#2a2012" stroke-width="0.35">44</text>
<text transform="translate(1077.68 251.00) scale(0.570 1)" font-size="19" fill="#2a2012" stroke="#2a2012" stroke-width="0.35">44</text>
<text transform="translate(1113.28 251.00) scale(0.570 1)" font-size="19" fill="#2a2012" stroke="#2a2012" stroke-width="0.35">44</text>
<text transform="translate(1148.03 251.00) scale(0.570 1)" font-size="19" fill="#2a2012" stroke="#2a2012" stroke-width="0.35">44</text>
<text transform="translate(651.18 274.10) scale(0.570 1)" font-size="19" fill="#2a2012" stroke="#2a2012" stroke-width="0.35">45</text>
<text transform="translate(683.20 274.10) scale(0.605 1)" font-size="19" fill="#2a2012" stroke="#2a2012" stroke-width="0.35">Rayne</text>
<text transform="translate(756.60 274.10) scale(0.605 1)" font-size="19" fill="#2a2012" stroke="#2a2012" stroke-width="0.35">Dan Murray</text>
<text transform="translate(898.88 274.10) scale(0.570 1)" font-size="19" fill="#2a2012" stroke="#2a2012" stroke-width="0.35">45</text>
<text transform="translate(934.73 274.10) scale(0.570 1)" font-size="19" fill="#2a2012" stroke="#2a2012" stroke-width="0.35">45</text>
<text transform="translate(970.68 274.10) scale(0.570 1)" font-size="19" fill="#2a2012" stroke="#2a2012" stroke-width="0.35">45</text>
<text transform="translate(1006.73 274.10) scale(0.570 1)" font-size="19" fill="#2a2012" stroke="#2a2012" stroke-width="0.35">45</text>
<text transform="translate(1043.08 274.10) scale(0.570 1)" font-size="19" fill="#2a2012" stroke="#2a2012" stroke-width="0.35">45</text>
<text transform="translate(1077.68 274.10) scale(0.570 1)" font-size="19" fill="#2a2012" stroke="#2a2012" stroke-width="0.35">45</text>
<text transform="translate(1113.28 274.10) scale(0.570 1)" font-size="19" fill="#2a2012" stroke="#2a2012" stroke-width="0.35">45</text>
<text transform="translate(1148.03 274.10) scale(0.570 1)" font-size="19" fill="#2a2012" stroke="#2a2012" stroke-width="0.35">45</text>
<text transform="translate(651.18 297.20) scale(0.570 1)" font-size="19" fill="#2a2012" stroke="#2a2012" stroke-width="0.35">46</text>
<text transform="translate(683.20 297.20) scale(0.605 1)" font-size="19" fill="#2a2012" stroke="#2a2012" stroke-width="0.35">Mars</text>
<text transform="translate(756.60 297.20) scale(0.605 1)" font-size="19" fill="#2a2012" stroke="#2a2012" stroke-width="0.35">Amelia Baxter</text>
<text transform="translate(898.88 297.20) scale(0.570 1)" font-size="19" fill="#2a2012" stroke="#2a2012" stroke-width="0.35">46</text>
<text transform="translate(934.73 297.20) scale(0.570 1)" font-size="19" fill="#2a2012" stroke="#2a2012" stroke-width="0.35">46</text>
<text transform="translate(970.68 297.20) scale(0.570 1)" font-size="19" fill="#2a2012" stroke="#2a2012" stroke-width="0.35">46</text>
<text transform="translate(1006.73 297.20) scale(0.570 1)" font-size="19" fill="#2a2012" stroke="#2a2012" stroke-width="0.35">46</text>
<text transform="translate(1043.08 297.20) scale(0.570 1)" font-size="19" fill="#2a2012" stroke="#2a2012" stroke-width="0.35">46</text>
<text transform="translate(1077.68 297.20) scale(0.570 1)" font-size="19" fill="#2a2012" stroke="#2a2012" stroke-width="0.35">46</text>
<text transform="translate(1113.28 297.20) scale(0.570 1)" font-size="19" fill="#2a2012" stroke="#2a2012" stroke-width="0.35">46</text>
<text transform="translate(1148.03 297.20) scale(0.570 1)" font-size="19" fill="#2a2012" stroke="#2a2012" stroke-width="0.35">46</text>
<text transform="translate(651.18 320.30) scale(0.570 1)" font-size="19" fill="#2a2012" stroke="#2a2012" stroke-width="0.35">47</text>
<text transform="translate(683.20 320.30) scale(0.605 1)" font-size="19" fill="#2a2012" stroke="#2a2012" stroke-width="0.35">IV</text>
<text transform="translate(756.60 320.30) scale(0.605 1)" font-size="19" fill="#2a2012" stroke="#2a2012" stroke-width="0.35">Gary Riddle</text>
<text transform="translate(898.88 320.30) scale(0.570 1)" font-size="19" fill="#2a2012" stroke="#2a2012" stroke-width="0.35">47</text>
<text transform="translate(934.73 320.30) scale(0.570 1)" font-size="19" fill="#2a2012" stroke="#2a2012" stroke-width="0.35">47</text>
<text transform="translate(970.68 320.30) scale(0.570 1)" font-size="19" fill="#2a2012" stroke="#2a2012" stroke-width="0.35">47</text>
<text transform="translate(1006.73 320.30) scale(0.570 1)" font-size="19" fill="#2a2012" stroke="#2a2012" stroke-width="0.35">47</text>
<text transform="translate(1043.08 320.30) scale(0.570 1)" font-size="19" fill="#2a2012" stroke="#2a2012" stroke-width="0.35">47</text>
<text transform="translate(1077.68 320.30) scale(0.570 1)" font-size="19" fill="#2a2012" stroke="#2a2012" stroke-width="0.35">47</text>
<text transform="translate(1113.28 320.30) scale(0.570 1)" font-size="19" fill="#2a2012" stroke="#2a2012" stroke-width="0.35">47</text>
<text transform="translate(1148.03 320.30) scale(0.570 1)" font-size="19" fill="#2a2012" stroke="#2a2012" stroke-width="0.35">47</text>
<text transform="translate(651.18 343.40) scale(0.570 1)" font-size="19" fill="#2a2012" stroke="#2a2012" stroke-width="0.35">48</text>
<text transform="translate(683.20 343.40) scale(0.605 1)" font-size="19" fill="#2a2012" stroke="#2a2012" stroke-width="0.35">Whitey</text>
<text transform="translate(756.60 343.40) scale(0.605 1)" font-size="19" fill="#2a2012" stroke="#2a2012" stroke-width="0.35">Clay Earl</text>
<text transform="translate(898.88 343.40) scale(0.570 1)" font-size="19" fill="#2a2012" stroke="#2a2012" stroke-width="0.35">48</text>
<text transform="translate(934.73 343.40) scale(0.570 1)" font-size="19" fill="#2a2012" stroke="#2a2012" stroke-width="0.35">48</text>
<text transform="translate(970.68 343.40) scale(0.570 1)" font-size="19" fill="#2a2012" stroke="#2a2012" stroke-width="0.35">48</text>
<text transform="translate(1006.73 343.40) scale(0.570 1)" font-size="19" fill="#2a2012" stroke="#2a2012" stroke-width="0.35">48</text>
<text transform="translate(1043.08 343.40) scale(0.570 1)" font-size="19" fill="#2a2012" stroke="#2a2012" stroke-width="0.35">48</text>
<text transform="translate(1077.68 343.40) scale(0.570 1)" font-size="19" fill="#2a2012" stroke="#2a2012" stroke-width="0.35">48</text>
<text transform="translate(1113.28 343.40) scale(0.570 1)" font-size="19" fill="#2a2012" stroke="#2a2012" stroke-width="0.35">48</text>
<text transform="translate(1148.03 343.40) scale(0.570 1)" font-size="19" fill="#2a2012" stroke="#2a2012" stroke-width="0.35">48</text>
<text transform="translate(651.18 366.50) scale(0.570 1)" font-size="19" fill="#2a2012" stroke="#2a2012" stroke-width="0.35">49</text>
<text transform="translate(683.20 366.50) scale(0.605 1)" font-size="19" fill="#2a2012" stroke="#2a2012" stroke-width="0.35">Shyne</text>
<text transform="translate(756.60 366.50) scale(0.605 1)" font-size="19" fill="#2a2012" stroke="#2a2012" stroke-width="0.35">Rick Paquin</text>
<text transform="translate(898.88 366.50) scale(0.570 1)" font-size="19" fill="#2a2012" stroke="#2a2012" stroke-width="0.35">49</text>
<text transform="translate(934.73 366.50) scale(0.570 1)" font-size="19" fill="#2a2012" stroke="#2a2012" stroke-width="0.35">49</text>
<text transform="translate(970.68 366.50) scale(0.570 1)" font-size="19" fill="#2a2012" stroke="#2a2012" stroke-width="0.35">49</text>
<text transform="translate(1006.73 366.50) scale(0.570 1)" font-size="19" fill="#2a2012" stroke="#2a2012" stroke-width="0.35">49</text>
<text transform="translate(1043.08 366.50) scale(0.570 1)" font-size="19" fill="#2a2012" stroke="#2a2012" stroke-width="0.35">49</text>
<text transform="translate(1077.68 366.50) scale(0.570 1)" font-size="19" fill="#2a2012" stroke="#2a2012" stroke-width="0.35">49</text>
<text transform="translate(1113.28 366.50) scale(0.570 1)" font-size="19" fill="#2a2012" stroke="#2a2012" stroke-width="0.35">49</text>
<text transform="translate(1148.03 366.50) scale(0.570 1)" font-size="19" fill="#2a2012" stroke="#2a2012" stroke-width="0.35">49</text>
<text transform="translate(651.18 389.60) scale(0.570 1)" font-size="19" fill="#2a2012" stroke="#2a2012" stroke-width="0.35">50</text>
<text transform="translate(683.20 389.60) scale(0.605 1)" font-size="19" fill="#2a2012" stroke="#2a2012" stroke-width="0.35">Q</text>
<text transform="translate(756.60 389.60) scale(0.605 1)" font-size="19" fill="#2a2012" stroke="#2a2012" stroke-width="0.35">Hannah Hayes</text>
<text transform="translate(898.88 389.60) scale(0.570 1)" font-size="19" fill="#2a2012" stroke="#2a2012" stroke-width="0.35">50</text>
<text transform="translate(934.73 389.60) scale(0.570 1)" font-size="19" fill="#2a2012" stroke="#2a2012" stroke-width="0.35">50</text>
<text transform="translate(970.68 389.60) scale(0.570 1)" font-size="19" fill="#2a2012" stroke="#2a2012" stroke-width="0.35">50</text>
<text transform="translate(1006.73 389.60) scale(0.570 1)" font-size="19" fill="#2a2012" stroke="#2a2012" stroke-width="0.35">50</text>
<text transform="translate(1043.08 389.60) scale(0.570 1)" font-size="19" fill="#2a2012" stroke="#2a2012" stroke-width="0.35">50</text>
<text transform="translate(1077.68 389.60) scale(0.570 1)" font-size="19" fill="#2a2012" stroke="#2a2012" stroke-width="0.35">50</text>
<text transform="translate(1113.28 389.60) scale(0.570 1)" font-size="19" fill="#2a2012" stroke="#2a2012" stroke-width="0.35">50</text>
<text transform="translate(1148.03 389.60) scale(0.570 1)" font-size="19" fill="#2a2012" stroke="#2a2012" stroke-width="0.35">50</text>
<text transform="translate(651.18 412.70) scale(0.570 1)" font-size="19" fill="#2a2012" stroke="#2a2012" stroke-width="0.35">51</text>
<text transform="translate(683.20 412.70) scale(0.605 1)" font-size="19" fill="#2a2012" stroke="#2a2012" stroke-width="0.35">Finn</text>
<text transform="translate(756.60 412.70) scale(0.605 1)" font-size="19" fill="#2a2012" stroke="#2a2012" stroke-width="0.35">Jim Keller/Deanna Keller</text>
<text transform="translate(898.88 412.70) scale(0.570 1)" font-size="19" fill="#2a2012" stroke="#2a2012" stroke-width="0.35">51</text>
<text transform="translate(934.73 412.70) scale(0.570 1)" font-size="19" fill="#2a2012" stroke="#2a2012" stroke-width="0.35">51</text>
<text transform="translate(970.68 412.70) scale(0.570 1)" font-size="19" fill="#2a2012" stroke="#2a2012" stroke-width="0.35">51</text>
<text transform="translate(1006.73 412.70) scale(0.570 1)" font-size="19" fill="#2a2012" stroke="#2a2012" stroke-width="0.35">51</text>
<text transform="translate(1043.08 412.70) scale(0.570 1)" font-size="19" fill="#2a2012" stroke="#2a2012" stroke-width="0.35">51</text>
<text transform="translate(1077.68 412.70) scale(0.570 1)" font-size="19" fill="#2a2012" stroke="#2a2012" stroke-width="0.35">51</text>
<text transform="translate(1113.28 412.70) scale(0.570 1)" font-size="19" fill="#2a2012" stroke="#2a2012" stroke-width="0.35">51</text>
<text transform="translate(1148.03 412.70) scale(0.570 1)" font-size="19" fill="#2a2012" stroke="#2a2012" stroke-width="0.35">51</text>
<text transform="translate(651.18 435.80) scale(0.570 1)" font-size="19" fill="#2a2012" stroke="#2a2012" stroke-width="0.35">52</text>
<text transform="translate(683.20 435.80) scale(0.605 1)" font-size="19" fill="#2a2012" stroke="#2a2012" stroke-width="0.35">Louie</text>
<text transform="translate(756.60 435.80) scale(0.605 1)" font-size="19" fill="#2a2012" stroke="#2a2012" stroke-width="0.35">Kelly Bernal</text>
<text transform="translate(898.88 435.80) scale(0.570 1)" font-size="19" fill="#2a2012" stroke="#2a2012" stroke-width="0.35">52</text>
<text transform="translate(934.73 435.80) scale(0.570 1)" font-size="19" fill="#2a2012" stroke="#2a2012" stroke-width="0.35">52</text>
<text transform="translate(970.68 435.80) scale(0.570 1)" font-size="19" fill="#2a2012" stroke="#2a2012" stroke-width="0.35">52</text>
<text transform="translate(1006.73 435.80) scale(0.570 1)" font-size="19" fill="#2a2012" stroke="#2a2012" stroke-width="0.35">52</text>
<text transform="translate(1043.08 435.80) scale(0.570 1)" font-size="19" fill="#2a2012" stroke="#2a2012" stroke-width="0.35">52</text>
<text transform="translate(1077.68 435.80) scale(0.570 1)" font-size="19" fill="#2a2012" stroke="#2a2012" stroke-width="0.35">52</text>
<text transform="translate(1113.28 435.80) scale(0.570 1)" font-size="19" fill="#2a2012" stroke="#2a2012" stroke-width="0.35">52</text>
<text transform="translate(1148.03 435.80) scale(0.570 1)" font-size="19" fill="#2a2012" stroke="#2a2012" stroke-width="0.35">52</text>
<text transform="translate(651.18 460.32) scale(0.570 1)" font-size="19" fill="#2a2012" stroke="#2a2012" stroke-width="0.35">53</text>
<text transform="translate(683.20 460.32) scale(0.605 1)" font-size="19" fill="#2a2012" stroke="#2a2012" stroke-width="0.35">Teddy</text>
<text transform="translate(756.60 460.32) scale(0.605 1)" font-size="19" fill="#2a2012" stroke="#2a2012" stroke-width="0.35">Joe Eischen</text>
<text transform="translate(898.88 460.32) scale(0.570 1)" font-size="19" fill="#2a2012" stroke="#2a2012" stroke-width="0.35">53</text>
<text transform="translate(934.73 460.32) scale(0.570 1)" font-size="19" fill="#2a2012" stroke="#2a2012" stroke-width="0.35">53</text>
<text transform="translate(970.68 460.32) scale(0.570 1)" font-size="19" fill="#2a2012" stroke="#2a2012" stroke-width="0.35">53</text>
<text transform="translate(1006.73 460.32) scale(0.570 1)" font-size="19" fill="#2a2012" stroke="#2a2012" stroke-width="0.35">53</text>
<text transform="translate(1043.08 460.32) scale(0.570 1)" font-size="19" fill="#2a2012" stroke="#2a2012" stroke-width="0.35">53</text>
<text transform="translate(1077.68 460.32) scale(0.570 1)" font-size="19" fill="#2a2012" stroke="#2a2012" stroke-width="0.35">53</text>
<text transform="translate(1113.28 460.32) scale(0.570 1)" font-size="19" fill="#2a2012" stroke="#2a2012" stroke-width="0.35">53</text>
<text transform="translate(1148.03 460.32) scale(0.570 1)" font-size="19" fill="#2a2012" stroke="#2a2012" stroke-width="0.35">53</text>
<text transform="translate(651.18 484.84) scale(0.570 1)" font-size="19" fill="#2a2012" stroke="#2a2012" stroke-width="0.35">54</text>
<text transform="translate(683.20 484.84) scale(0.605 1)" font-size="19" fill="#2a2012" stroke="#2a2012" stroke-width="0.35">Elvis</text>
<text transform="translate(756.60 484.84) scale(0.605 1)" font-size="19" fill="#2a2012" stroke="#2a2012" stroke-width="0.35">Amelia Baxter</text>
<text transform="translate(898.88 484.84) scale(0.570 1)" font-size="19" fill="#2a2012" stroke="#2a2012" stroke-width="0.35">54</text>
<text transform="translate(934.73 484.84) scale(0.570 1)" font-size="19" fill="#2a2012" stroke="#2a2012" stroke-width="0.35">54</text>
<text transform="translate(970.68 484.84) scale(0.570 1)" font-size="19" fill="#2a2012" stroke="#2a2012" stroke-width="0.35">54</text>
<text transform="translate(1006.73 484.84) scale(0.570 1)" font-size="19" fill="#2a2012" stroke="#2a2012" stroke-width="0.35">54</text>
<text transform="translate(1043.08 484.84) scale(0.570 1)" font-size="19" fill="#2a2012" stroke="#2a2012" stroke-width="0.35">54</text>
<text transform="translate(1077.68 484.84) scale(0.570 1)" font-size="19" fill="#2a2012" stroke="#2a2012" stroke-width="0.35">54</text>
<text transform="translate(1113.28 484.84) scale(0.570 1)" font-size="19" fill="#2a2012" stroke="#2a2012" stroke-width="0.35">54</text>
<text transform="translate(1148.03 484.84) scale(0.570 1)" font-size="19" fill="#2a2012" stroke="#2a2012" stroke-width="0.35">54</text>
<text transform="translate(651.18 509.36) scale(0.570 1)" font-size="19" fill="#2a2012" stroke="#2a2012" stroke-width="0.35">55</text>
<text transform="translate(683.20 509.36) scale(0.605 1)" font-size="19" fill="#2a2012" stroke="#2a2012" stroke-width="0.35">Maxx</text>
<text transform="translate(756.60 509.36) scale(0.605 1)" font-size="19" fill="#2a2012" stroke="#2a2012" stroke-width="0.35">Dan Murray</text>
<text transform="translate(898.88 509.36) scale(0.570 1)" font-size="19" fill="#2a2012" stroke="#2a2012" stroke-width="0.35">55</text>
<text transform="translate(934.73 509.36) scale(0.570 1)" font-size="19" fill="#2a2012" stroke="#2a2012" stroke-width="0.35">55</text>
<text transform="translate(970.68 509.36) scale(0.570 1)" font-size="19" fill="#2a2012" stroke="#2a2012" stroke-width="0.35">55</text>
<text transform="translate(1006.73 509.36) scale(0.570 1)" font-size="19" fill="#2a2012" stroke="#2a2012" stroke-width="0.35">55</text>
<text transform="translate(1043.08 509.36) scale(0.570 1)" font-size="19" fill="#2a2012" stroke="#2a2012" stroke-width="0.35">55</text>
<text transform="translate(1077.68 509.36) scale(0.570 1)" font-size="19" fill="#2a2012" stroke="#2a2012" stroke-width="0.35">55</text>
<text transform="translate(1113.28 509.36) scale(0.570 1)" font-size="19" fill="#2a2012" stroke="#2a2012" stroke-width="0.35">55</text>
<text transform="translate(1148.03 509.36) scale(0.570 1)" font-size="19" fill="#2a2012" stroke="#2a2012" stroke-width="0.35">55</text>
<text transform="translate(651.18 533.88) scale(0.570 1)" font-size="19" fill="#2a2012" stroke="#2a2012" stroke-width="0.35">56</text>
<text transform="translate(683.20 533.88) scale(0.605 1)" font-size="19" fill="#2a2012" stroke="#2a2012" stroke-width="0.35">Blue</text>
<text transform="translate(756.60 533.88) scale(0.605 1)" font-size="19" fill="#2a2012" stroke="#2a2012" stroke-width="0.35">Jeffrey Miller</text>
<text transform="translate(898.88 533.88) scale(0.570 1)" font-size="19" fill="#2a2012" stroke="#2a2012" stroke-width="0.35">56</text>
<text transform="translate(934.73 533.88) scale(0.570 1)" font-size="19" fill="#2a2012" stroke="#2a2012" stroke-width="0.35">56</text>
<text transform="translate(970.68 533.88) scale(0.570 1)" font-size="19" fill="#2a2012" stroke="#2a2012" stroke-width="0.35">56</text>
<text transform="translate(1006.73 533.88) scale(0.570 1)" font-size="19" fill="#2a2012" stroke="#2a2012" stroke-width="0.35">56</text>
<text transform="translate(1043.08 533.88) scale(0.570 1)" font-size="19" fill="#2a2012" stroke="#2a2012" stroke-width="0.35">56</text>
<text transform="translate(1077.68 533.88) scale(0.570 1)" font-size="19" fill="#2a2012" stroke="#2a2012" stroke-width="0.35">56</text>
<text transform="translate(1113.28 533.88) scale(0.570 1)" font-size="19" fill="#2a2012" stroke="#2a2012" stroke-width="0.35">56</text>
<text transform="translate(1148.03 533.88) scale(0.570 1)" font-size="19" fill="#2a2012" stroke="#2a2012" stroke-width="0.35">56</text>
<text transform="translate(651.18 558.40) scale(0.570 1)" font-size="19" fill="#2a2012" stroke="#2a2012" stroke-width="0.35">57</text>
<text transform="translate(683.20 558.40) scale(0.605 1)" font-size="19" fill="#2a2012" stroke="#2a2012" stroke-width="0.35">Solo</text>
<text transform="translate(756.60 558.40) scale(0.605 1)" font-size="19" fill="#2a2012" stroke="#2a2012" stroke-width="0.35">Zara Labrenz</text>
<text transform="translate(898.88 558.40) scale(0.570 1)" font-size="19" fill="#2a2012" stroke="#2a2012" stroke-width="0.35">57</text>
<text transform="translate(934.73 558.40) scale(0.570 1)" font-size="19" fill="#2a2012" stroke="#2a2012" stroke-width="0.35">57</text>
<text transform="translate(970.68 558.40) scale(0.570 1)" font-size="19" fill="#2a2012" stroke="#2a2012" stroke-width="0.35">57</text>
<text transform="translate(1006.73 558.40) scale(0.570 1)" font-size="19" fill="#2a2012" stroke="#2a2012" stroke-width="0.35">57</text>
<text transform="translate(1043.08 558.40) scale(0.570 1)" font-size="19" fill="#2a2012" stroke="#2a2012" stroke-width="0.35">57</text>
<text transform="translate(1077.68 558.40) scale(0.570 1)" font-size="19" fill="#2a2012" stroke="#2a2012" stroke-width="0.35">57</text>
<text transform="translate(1113.28 558.40) scale(0.570 1)" font-size="19" fill="#2a2012" stroke="#2a2012" stroke-width="0.35">57</text>
<text transform="translate(1148.03 558.40) scale(0.570 1)" font-size="19" fill="#2a2012" stroke="#2a2012" stroke-width="0.35">57</text>
<text transform="translate(651.18 582.92) scale(0.570 1)" font-size="19" fill="#2a2012" stroke="#2a2012" stroke-width="0.35">58</text>
<text transform="translate(683.20 582.92) scale(0.605 1)" font-size="19" fill="#2a2012" stroke="#2a2012" stroke-width="0.35">Sparky</text>
<text transform="translate(756.60 582.92) scale(0.605 1)" font-size="19" fill="#2a2012" stroke="#2a2012" stroke-width="0.35">Clay Earl</text>
<text transform="translate(898.88 582.92) scale(0.570 1)" font-size="19" fill="#2a2012" stroke="#2a2012" stroke-width="0.35">58</text>
<text transform="translate(934.73 582.92) scale(0.570 1)" font-size="19" fill="#2a2012" stroke="#2a2012" stroke-width="0.35">58</text>
<text transform="translate(970.68 582.92) scale(0.570 1)" font-size="19" fill="#2a2012" stroke="#2a2012" stroke-width="0.35">58</text>
<text transform="translate(1006.73 582.92) scale(0.570 1)" font-size="19" fill="#2a2012" stroke="#2a2012" stroke-width="0.35">58</text>
<text transform="translate(1043.08 582.92) scale(0.570 1)" font-size="19" fill="#2a2012" stroke="#2a2012" stroke-width="0.35">58</text>
<text transform="translate(1077.68 582.92) scale(0.570 1)" font-size="19" fill="#2a2012" stroke="#2a2012" stroke-width="0.35">58</text>
<text transform="translate(1113.28 582.92) scale(0.570 1)" font-size="19" fill="#2a2012" stroke="#2a2012" stroke-width="0.35">58</text>
<text transform="translate(1148.03 582.92) scale(0.570 1)" font-size="19" fill="#2a2012" stroke="#2a2012" stroke-width="0.35">58</text>
<text transform="translate(651.18 607.44) scale(0.570 1)" font-size="19" fill="#2a2012" stroke="#2a2012" stroke-width="0.35">59</text>
<text transform="translate(683.20 607.44) scale(0.605 1)" font-size="19" fill="#2a2012" stroke="#2a2012" stroke-width="0.35">Bo</text>
<text transform="translate(756.60 607.44) scale(0.605 1)" font-size="19" fill="#2a2012" stroke="#2a2012" stroke-width="0.35">Deanna Keller/Jim Keller</text>
<text transform="translate(898.88 607.44) scale(0.570 1)" font-size="19" fill="#2a2012" stroke="#2a2012" stroke-width="0.35">59</text>
<text transform="translate(934.73 607.44) scale(0.570 1)" font-size="19" fill="#2a2012" stroke="#2a2012" stroke-width="0.35">59</text>
<text transform="translate(970.68 607.44) scale(0.570 1)" font-size="19" fill="#2a2012" stroke="#2a2012" stroke-width="0.35">59</text>
<text transform="translate(1006.73 607.44) scale(0.570 1)" font-size="19" fill="#2a2012" stroke="#2a2012" stroke-width="0.35">59</text>
<text transform="translate(1043.08 607.44) scale(0.570 1)" font-size="19" fill="#2a2012" stroke="#2a2012" stroke-width="0.35">59</text>
<text transform="translate(1077.68 607.44) scale(0.570 1)" font-size="19" fill="#2a2012" stroke="#2a2012" stroke-width="0.35">59</text>
<text transform="translate(1113.28 607.44) scale(0.570 1)" font-size="19" fill="#2a2012" stroke="#2a2012" stroke-width="0.35">59</text>
<text transform="translate(1148.03 607.44) scale(0.570 1)" font-size="19" fill="#2a2012" stroke="#2a2012" stroke-width="0.35">59</text>
<text transform="translate(651.18 631.96) scale(0.570 1)" font-size="19" fill="#2a2012" stroke="#2a2012" stroke-width="0.35">60</text>
<text transform="translate(683.20 631.96) scale(0.605 1)" font-size="19" fill="#2a2012" stroke="#2a2012" stroke-width="0.35">Freya</text>
<text transform="translate(756.60 631.96) scale(0.605 1)" font-size="19" fill="#2a2012" stroke="#2a2012" stroke-width="0.35">David Flint/Jill Hibbard</text>
<text transform="translate(898.88 631.96) scale(0.570 1)" font-size="19" fill="#2a2012" stroke="#2a2012" stroke-width="0.35">60</text>
<text transform="translate(934.73 631.96) scale(0.570 1)" font-size="19" fill="#2a2012" stroke="#2a2012" stroke-width="0.35">60</text>
<text transform="translate(970.68 631.96) scale(0.570 1)" font-size="19" fill="#2a2012" stroke="#2a2012" stroke-width="0.35">60</text>
<text transform="translate(1006.73 631.96) scale(0.570 1)" font-size="19" fill="#2a2012" stroke="#2a2012" stroke-width="0.35">60</text>
<text transform="translate(1043.08 631.96) scale(0.570 1)" font-size="19" fill="#2a2012" stroke="#2a2012" stroke-width="0.35">60</text>
<text transform="translate(1077.68 631.96) scale(0.570 1)" font-size="19" fill="#2a2012" stroke="#2a2012" stroke-width="0.35">60</text>
<text transform="translate(1113.28 631.96) scale(0.570 1)" font-size="19" fill="#2a2012" stroke="#2a2012" stroke-width="0.35">60</text>
<text transform="translate(1148.03 631.96) scale(0.570 1)" font-size="19" fill="#2a2012" stroke="#2a2012" stroke-width="0.35">60</text>
<text transform="translate(651.18 656.48) scale(0.570 1)" font-size="19" fill="#2a2012" stroke="#2a2012" stroke-width="0.35">61</text>
<text transform="translate(683.20 656.48) scale(0.605 1)" font-size="19" fill="#2a2012" stroke="#2a2012" stroke-width="0.35">Who Me?</text>
<text transform="translate(756.60 656.48) scale(0.605 1)" font-size="19" fill="#2a2012" stroke="#2a2012" stroke-width="0.35">Gary Riddle</text>
<text transform="translate(898.88 656.48) scale(0.570 1)" font-size="19" fill="#2a2012" stroke="#2a2012" stroke-width="0.35">61</text>
<text transform="translate(934.73 656.48) scale(0.570 1)" font-size="19" fill="#2a2012" stroke="#2a2012" stroke-width="0.35">61</text>
<text transform="translate(970.68 656.48) scale(0.570 1)" font-size="19" fill="#2a2012" stroke="#2a2012" stroke-width="0.35">61</text>
<text transform="translate(1006.73 656.48) scale(0.570 1)" font-size="19" fill="#2a2012" stroke="#2a2012" stroke-width="0.35">61</text>
<text transform="translate(1043.08 656.48) scale(0.570 1)" font-size="19" fill="#2a2012" stroke="#2a2012" stroke-width="0.35">61</text>
<text transform="translate(1077.68 656.48) scale(0.570 1)" font-size="19" fill="#2a2012" stroke="#2a2012" stroke-width="0.35">61</text>
<text transform="translate(1113.28 656.48) scale(0.570 1)" font-size="19" fill="#2a2012" stroke="#2a2012" stroke-width="0.35">61</text>
<text transform="translate(1148.03 656.48) scale(0.570 1)" font-size="19" fill="#2a2012" stroke="#2a2012" stroke-width="0.35">61</text>
<text transform="translate(651.18 681.00) scale(0.570 1)" font-size="19" fill="#2a2012" stroke="#2a2012" stroke-width="0.35">62</text>
<text transform="translate(683.20 681.00) scale(0.605 1)" font-size="19" fill="#2a2012" stroke="#2a2012" stroke-width="0.35">Zylo</text>
<text transform="translate(756.60 681.00) scale(0.605 1)" font-size="19" fill="#2a2012" stroke="#2a2012" stroke-width="0.35">John Stowell</text>
<text transform="translate(898.88 681.00) scale(0.570 1)" font-size="19" fill="#2a2012" stroke="#2a2012" stroke-width="0.35">62</text>
<text transform="translate(934.73 681.00) scale(0.570 1)" font-size="19" fill="#2a2012" stroke="#2a2012" stroke-width="0.35">62</text>
<text transform="translate(970.68 681.00) scale(0.570 1)" font-size="19" fill="#2a2012" stroke="#2a2012" stroke-width="0.35">62</text>
<text transform="translate(1006.73 681.00) scale(0.570 1)" font-size="19" fill="#2a2012" stroke="#2a2012" stroke-width="0.35">62</text>
<text transform="translate(1043.08 681.00) scale(0.570 1)" font-size="19" fill="#2a2012" stroke="#2a2012" stroke-width="0.35">62</text>
<text transform="translate(1077.68 681.00) scale(0.570 1)" font-size="19" fill="#2a2012" stroke="#2a2012" stroke-width="0.35">62</text>
<text transform="translate(1113.28 681.00) scale(0.570 1)" font-size="19" fill="#2a2012" stroke="#2a2012" stroke-width="0.35">62</text>
<text transform="translate(1148.03 681.00) scale(0.570 1)" font-size="19" fill="#2a2012" stroke="#2a2012" stroke-width="0.35">62</text>
<text transform="translate(651.18 705.52) scale(0.570 1)" font-size="19" fill="#2a2012" stroke="#2a2012" stroke-width="0.35">63</text>
<text transform="translate(683.20 705.52) scale(0.605 1)" font-size="19" fill="#2a2012" stroke="#2a2012" stroke-width="0.35">Hatch</text>
<text transform="translate(756.60 705.52) scale(0.605 1)" font-size="19" fill="#2a2012" stroke="#2a2012" stroke-width="0.35">Mike Wallace</text>
<text transform="translate(898.88 705.52) scale(0.570 1)" font-size="19" fill="#2a2012" stroke="#2a2012" stroke-width="0.35">63</text>
<text transform="translate(934.73 705.52) scale(0.570 1)" font-size="19" fill="#2a2012" stroke="#2a2012" stroke-width="0.35">63</text>
<text transform="translate(970.68 705.52) scale(0.570 1)" font-size="19" fill="#2a2012" stroke="#2a2012" stroke-width="0.35">63</text>
<text transform="translate(1006.73 705.52) scale(0.570 1)" font-size="19" fill="#2a2012" stroke="#2a2012" stroke-width="0.35">63</text>
<text transform="translate(1043.08 705.52) scale(0.570 1)" font-size="19" fill="#2a2012" stroke="#2a2012" stroke-width="0.35">63</text>
<text transform="translate(1077.68 705.52) scale(0.570 1)" font-size="19" fill="#2a2012" stroke="#2a2012" stroke-width="0.35">63</text>
<text transform="translate(1113.28 705.52) scale(0.570 1)" font-size="19" fill="#2a2012" stroke="#2a2012" stroke-width="0.35">63</text>
<text transform="translate(1148.03 705.52) scale(0.570 1)" font-size="19" fill="#2a2012" stroke="#2a2012" stroke-width="0.35">63</text>
<text transform="translate(651.18 730.04) scale(0.570 1)" font-size="19" fill="#2a2012" stroke="#2a2012" stroke-width="0.35">64</text>
<text transform="translate(683.20 730.04) scale(0.605 1)" font-size="19" fill="#2a2012" stroke="#2a2012" stroke-width="0.35">Jenny</text>
<text transform="translate(756.60 730.04) scale(0.605 1)" font-size="19" fill="#2a2012" stroke="#2a2012" stroke-width="0.35">Amelia Baxter</text>
<text transform="translate(898.88 730.04) scale(0.570 1)" font-size="19" fill="#2a2012" stroke="#2a2012" stroke-width="0.35">64</text>
<text transform="translate(934.73 730.04) scale(0.570 1)" font-size="19" fill="#2a2012" stroke="#2a2012" stroke-width="0.35">64</text>
<text transform="translate(970.68 730.04) scale(0.570 1)" font-size="19" fill="#2a2012" stroke="#2a2012" stroke-width="0.35">64</text>
<text transform="translate(1006.73 730.04) scale(0.570 1)" font-size="19" fill="#2a2012" stroke="#2a2012" stroke-width="0.35">64</text>
<text transform="translate(1043.08 730.04) scale(0.570 1)" font-size="19" fill="#2a2012" stroke="#2a2012" stroke-width="0.35">64</text>
<text transform="translate(1077.68 730.04) scale(0.570 1)" font-size="19" fill="#2a2012" stroke="#2a2012" stroke-width="0.35">64</text>
<text transform="translate(1113.28 730.04) scale(0.570 1)" font-size="19" fill="#2a2012" stroke="#2a2012" stroke-width="0.35">64</text>
<text transform="translate(1148.03 730.04) scale(0.570 1)" font-size="19" fill="#2a2012" stroke="#2a2012" stroke-width="0.35">64</text>
<text transform="translate(651.18 754.56) scale(0.570 1)" font-size="19" fill="#2a2012" stroke="#2a2012" stroke-width="0.35">65</text>
<text transform="translate(683.20 754.56) scale(0.605 1)" font-size="19" fill="#2a2012" stroke="#2a2012" stroke-width="0.35">Cocoa</text>
<text transform="translate(756.60 754.56) scale(0.605 1)" font-size="19" fill="#2a2012" stroke="#2a2012" stroke-width="0.35">Dan Murray</text>
<text transform="translate(898.88 754.56) scale(0.570 1)" font-size="19" fill="#2a2012" stroke="#2a2012" stroke-width="0.35">65</text>
<text transform="translate(934.73 754.56) scale(0.570 1)" font-size="19" fill="#2a2012" stroke="#2a2012" stroke-width="0.35">65</text>
<text transform="translate(970.68 754.56) scale(0.570 1)" font-size="19" fill="#2a2012" stroke="#2a2012" stroke-width="0.35">65</text>
<text transform="translate(1006.73 754.56) scale(0.570 1)" font-size="19" fill="#2a2012" stroke="#2a2012" stroke-width="0.35">65</text>
<text transform="translate(1043.08 754.56) scale(0.570 1)" font-size="19" fill="#2a2012" stroke="#2a2012" stroke-width="0.35">65</text>
<text transform="translate(1077.68 754.56) scale(0.570 1)" font-size="19" fill="#2a2012" stroke="#2a2012" stroke-width="0.35">65</text>
<text transform="translate(1113.28 754.56) scale(0.570 1)" font-size="19" fill="#2a2012" stroke="#2a2012" stroke-width="0.35">65</text>
<text transform="translate(1148.03 754.56) scale(0.570 1)" font-size="19" fill="#2a2012" stroke="#2a2012" stroke-width="0.35">65</text>
<text transform="translate(651.18 779.08) scale(0.570 1)" font-size="19" fill="#2a2012" stroke="#2a2012" stroke-width="0.35">66</text>
<text transform="translate(683.20 779.08) scale(0.605 1)" font-size="19" fill="#2a2012" stroke="#2a2012" stroke-width="0.35">Tilly</text>
<text transform="translate(756.60 779.08) scale(0.605 1)" font-size="19" fill="#2a2012" stroke="#2a2012" stroke-width="0.35">Tom Ness</text>
<text transform="translate(898.88 779.08) scale(0.570 1)" font-size="19" fill="#2a2012" stroke="#2a2012" stroke-width="0.35">66</text>
<text transform="translate(934.73 779.08) scale(0.570 1)" font-size="19" fill="#2a2012" stroke="#2a2012" stroke-width="0.35">66</text>
<text transform="translate(970.68 779.08) scale(0.570 1)" font-size="19" fill="#2a2012" stroke="#2a2012" stroke-width="0.35">66</text>
<text transform="translate(1006.73 779.08) scale(0.570 1)" font-size="19" fill="#2a2012" stroke="#2a2012" stroke-width="0.35">66</text>
<text transform="translate(1043.08 779.08) scale(0.570 1)" font-size="19" fill="#2a2012" stroke="#2a2012" stroke-width="0.35">66</text>
<text transform="translate(1077.68 779.08) scale(0.570 1)" font-size="19" fill="#2a2012" stroke="#2a2012" stroke-width="0.35">66</text>
<text transform="translate(1113.28 779.08) scale(0.570 1)" font-size="19" fill="#2a2012" stroke="#2a2012" stroke-width="0.35">66</text>
<text transform="translate(1148.03 779.08) scale(0.570 1)" font-size="19" fill="#2a2012" stroke="#2a2012" stroke-width="0.35">66</text>
<text transform="translate(651.18 803.60) scale(0.570 1)" font-size="19" fill="#2a2012" stroke="#2a2012" stroke-width="0.35">67</text>
<text transform="translate(683.20 803.60) scale(0.605 1)" font-size="19" fill="#2a2012" stroke="#2a2012" stroke-width="0.35">Blair</text>
<text transform="translate(756.60 803.60) scale(0.605 1)" font-size="19" fill="#2a2012" stroke="#2a2012" stroke-width="0.35">Kurt Goeman</text>
<text transform="translate(898.88 803.60) scale(0.570 1)" font-size="19" fill="#2a2012" stroke="#2a2012" stroke-width="0.35">67</text>
<text transform="translate(934.73 803.60) scale(0.570 1)" font-size="19" fill="#2a2012" stroke="#2a2012" stroke-width="0.35">67</text>
<text transform="translate(970.68 803.60) scale(0.570 1)" font-size="19" fill="#2a2012" stroke="#2a2012" stroke-width="0.35">67</text>
<text transform="translate(1006.73 803.60) scale(0.570 1)" font-size="19" fill="#2a2012" stroke="#2a2012" stroke-width="0.35">67</text>
<text transform="translate(1043.08 803.60) scale(0.570 1)" font-size="19" fill="#2a2012" stroke="#2a2012" stroke-width="0.35">67</text>
<text transform="translate(1077.68 803.60) scale(0.570 1)" font-size="19" fill="#2a2012" stroke="#2a2012" stroke-width="0.35">67</text>
<text transform="translate(1113.28 803.60) scale(0.570 1)" font-size="19" fill="#2a2012" stroke="#2a2012" stroke-width="0.35">67</text>
<text transform="translate(1148.03 803.60) scale(0.570 1)" font-size="19" fill="#2a2012" stroke="#2a2012" stroke-width="0.35">67</text>
<text transform="translate(651.18 828.12) scale(0.570 1)" font-size="19" fill="#2a2012" stroke="#2a2012" stroke-width="0.35">68</text>
<text transform="translate(683.20 828.12) scale(0.605 1)" font-size="19" fill="#2a2012" stroke="#2a2012" stroke-width="0.35">Star</text>
<text transform="translate(756.60 828.12) scale(0.605 1)" font-size="19" fill="#2a2012" stroke="#2a2012" stroke-width="0.35">Clay Earl</text>
<text transform="translate(898.88 828.12) scale(0.570 1)" font-size="19" fill="#2a2012" stroke="#2a2012" stroke-width="0.35">68</text>
<text transform="translate(934.73 828.12) scale(0.570 1)" font-size="19" fill="#2a2012" stroke="#2a2012" stroke-width="0.35">68</text>
<text transform="translate(970.68 828.12) scale(0.570 1)" font-size="19" fill="#2a2012" stroke="#2a2012" stroke-width="0.35">68</text>
<text transform="translate(1006.73 828.12) scale(0.570 1)" font-size="19" fill="#2a2012" stroke="#2a2012" stroke-width="0.35">68</text>
<text transform="translate(1043.08 828.12) scale(0.570 1)" font-size="19" fill="#2a2012" stroke="#2a2012" stroke-width="0.35">68</text>
<text transform="translate(1077.68 828.12) scale(0.570 1)" font-size="19" fill="#2a2012" stroke="#2a2012" stroke-width="0.35">68</text>
<text transform="translate(1113.28 828.12) scale(0.570 1)" font-size="19" fill="#2a2012" stroke="#2a2012" stroke-width="0.35">68</text>
<text transform="translate(1148.03 828.12) scale(0.570 1)" font-size="19" fill="#2a2012" stroke="#2a2012" stroke-width="0.35">68</text>
<text transform="translate(651.18 852.64) scale(0.570 1)" font-size="19" fill="#2a2012" stroke="#2a2012" stroke-width="0.35">69</text>
<text transform="translate(683.20 852.64) scale(0.605 1)" font-size="19" fill="#2a2012" stroke="#2a2012" stroke-width="0.35">Walker</text>
<text transform="translate(756.60 852.64) scale(0.605 1)" font-size="19" fill="#2a2012" stroke="#2a2012" stroke-width="0.35">Rick Paquin</text>
<text transform="translate(898.88 852.64) scale(0.570 1)" font-size="19" fill="#2a2012" stroke="#2a2012" stroke-width="0.35">69</text>
<text transform="translate(934.73 852.64) scale(0.570 1)" font-size="19" fill="#2a2012" stroke="#2a2012" stroke-width="0.35">69</text>
<text transform="translate(970.68 852.64) scale(0.570 1)" font-size="19" fill="#2a2012" stroke="#2a2012" stroke-width="0.35">69</text>
<text transform="translate(1006.73 852.64) scale(0.570 1)" font-size="19" fill="#2a2012" stroke="#2a2012" stroke-width="0.35">69</text>
<text transform="translate(1043.08 852.64) scale(0.570 1)" font-size="19" fill="#2a2012" stroke="#2a2012" stroke-width="0.35">69</text>
<text transform="translate(1077.68 852.64) scale(0.570 1)" font-size="19" fill="#2a2012" stroke="#2a2012" stroke-width="0.35">69</text>
<text transform="translate(1113.28 852.64) scale(0.570 1)" font-size="19" fill="#2a2012" stroke="#2a2012" stroke-width="0.35">69</text>
<text transform="translate(1148.03 852.64) scale(0.570 1)" font-size="19" fill="#2a2012" stroke="#2a2012" stroke-width="0.35">69</text>
<text transform="translate(651.18 877.16) scale(0.570 1)" font-size="19" fill="#2a2012" stroke="#2a2012" stroke-width="0.35">70</text>
<text transform="translate(683.20 877.16) scale(0.605 1)" font-size="19" fill="#2a2012" stroke="#2a2012" stroke-width="0.35">Fly</text>
<text transform="translate(756.60 877.16) scale(0.605 1)" font-size="19" fill="#2a2012" stroke="#2a2012" stroke-width="0.35">Eric Doyle</text>
<text transform="translate(898.88 877.16) scale(0.570 1)" font-size="19" fill="#2a2012" stroke="#2a2012" stroke-width="0.35">70</text>
<text transform="translate(934.73 877.16) scale(0.570 1)" font-size="19" fill="#2a2012" stroke="#2a2012" stroke-width="0.35">70</text>
<text transform="translate(970.68 877.16) scale(0.570 1)" font-size="19" fill="#2a2012" stroke="#2a2012" stroke-width="0.35">70</text>
<text transform="translate(1006.73 877.16) scale(0.570 1)" font-size="19" fill="#2a2012" stroke="#2a2012" stroke-width="0.35">70</text>
<text transform="translate(1043.08 877.16) scale(0.570 1)" font-size="19" fill="#2a2012" stroke="#2a2012" stroke-width="0.35">70</text>
<text transform="translate(1077.68 877.16) scale(0.570 1)" font-size="19" fill="#2a2012" stroke="#2a2012" stroke-width="0.35">70</text>
<text transform="translate(1113.28 877.16) scale(0.570 1)" font-size="19" fill="#2a2012" stroke="#2a2012" stroke-width="0.35">70</text>
<text transform="translate(1148.03 877.16) scale(0.570 1)" font-size="19" fill="#2a2012" stroke="#2a2012" stroke-width="0.35">70</text>
<text transform="translate(651.18 901.68) scale(0.570 1)" font-size="19" fill="#2a2012" stroke="#2a2012" stroke-width="0.35">71</text>
<text transform="translate(683.20 901.68) scale(0.605 1)" font-size="19" fill="#2a2012" stroke="#2a2012" stroke-width="0.35">Goo</text>
<text transform="translate(756.60 901.68) scale(0.605 1)" font-size="19" fill="#2a2012" stroke="#2a2012" stroke-width="0.35">Jim Keller/Deanna Keller</text>
<text transform="translate(898.88 901.68) scale(0.570 1)" font-size="19" fill="#2a2012" stroke="#2a2012" stroke-width="0.35">71</text>
<text transform="translate(934.73 901.68) scale(0.570 1)" font-size="19" fill="#2a2012" stroke="#2a2012" stroke-width="0.35">71</text>
<text transform="translate(970.68 901.68) scale(0.570 1)" font-size="19" fill="#2a2012" stroke="#2a2012" stroke-width="0.35">71</text>
<text transform="translate(1006.73 901.68) scale(0.570 1)" font-size="19" fill="#2a2012" stroke="#2a2012" stroke-width="0.35">71</text>
<text transform="translate(1043.08 901.68) scale(0.570 1)" font-size="19" fill="#2a2012" stroke="#2a2012" stroke-width="0.35">71</text>
<text transform="translate(1077.68 901.68) scale(0.570 1)" font-size="19" fill="#2a2012" stroke="#2a2012" stroke-width="0.35">71</text>
<text transform="translate(1113.28 901.68) scale(0.570 1)" font-size="19" fill="#2a2012" stroke="#2a2012" stroke-width="0.35">71</text>
<text transform="translate(1148.03 901.68) scale(0.570 1)" font-size="19" fill="#2a2012" stroke="#2a2012" stroke-width="0.35">71</text>
<text transform="translate(651.18 926.20) scale(0.570 1)" font-size="19" fill="#2a2012" stroke="#2a2012" stroke-width="0.35">72</text>
<text transform="translate(683.20 926.20) scale(0.605 1)" font-size="19" fill="#2a2012" stroke="#2a2012" stroke-width="0.35">Jersey</text>
<text transform="translate(756.60 926.20) scale(0.605 1)" font-size="19" fill="#2a2012" stroke="#2a2012" stroke-width="0.35">David Flint</text>
<text transform="translate(898.88 926.20) scale(0.570 1)" font-size="19" fill="#2a2012" stroke="#2a2012" stroke-width="0.35">72</text>
<text transform="translate(934.73 926.20) scale(0.570 1)" font-size="19" fill="#2a2012" stroke="#2a2012" stroke-width="0.35">72</text>
<text transform="translate(970.68 926.20) scale(0.570 1)" font-size="19" fill="#2a2012" stroke="#2a2012" stroke-width="0.35">72</text>
<text transform="translate(1006.73 926.20) scale(0.570 1)" font-size="19" fill="#2a2012" stroke="#2a2012" stroke-width="0.35">72</text>
<text transform="translate(1043.08 926.20) scale(0.570 1)" font-size="19" fill="#2a2012" stroke="#2a2012" stroke-width="0.35">72</text>
<text transform="translate(1077.68 926.20) scale(0.570 1)" font-size="19" fill="#2a2012" stroke="#2a2012" stroke-width="0.35">72</text>
<text transform="translate(1113.28 926.20) scale(0.570 1)" font-size="19" fill="#2a2012" stroke="#2a2012" stroke-width="0.35">72</text>
<text transform="translate(1148.03 926.20) scale(0.570 1)" font-size="19" fill="#2a2012" stroke="#2a2012" stroke-width="0.35">72</text>
<text transform="translate(651.18 950.72) scale(0.570 1)" font-size="19" fill="#2a2012" stroke="#2a2012" stroke-width="0.35">73</text>
<text transform="translate(683.20 950.72) scale(0.605 1)" font-size="19" fill="#2a2012" stroke="#2a2012" stroke-width="0.35">Tate</text>
<text transform="translate(756.60 950.72) scale(0.605 1)" font-size="19" fill="#2a2012" stroke="#2a2012" stroke-width="0.35">Gary Riddle</text>
<text transform="translate(898.88 950.72) scale(0.570 1)" font-size="19" fill="#2a2012" stroke="#2a2012" stroke-width="0.35">73</text>
<text transform="translate(934.73 950.72) scale(0.570 1)" font-size="19" fill="#2a2012" stroke="#2a2012" stroke-width="0.35">73</text>
<text transform="translate(970.68 950.72) scale(0.570 1)" font-size="19" fill="#2a2012" stroke="#2a2012" stroke-width="0.35">73</text>
<text transform="translate(1006.73 950.72) scale(0.570 1)" font-size="19" fill="#2a2012" stroke="#2a2012" stroke-width="0.35">73</text>
<text transform="translate(1043.08 950.72) scale(0.570 1)" font-size="19" fill="#2a2012" stroke="#2a2012" stroke-width="0.35">73</text>
<text transform="translate(1077.68 950.72) scale(0.570 1)" font-size="19" fill="#2a2012" stroke="#2a2012" stroke-width="0.35">73</text>
<text transform="translate(1113.28 950.72) scale(0.570 1)" font-size="19" fill="#2a2012" stroke="#2a2012" stroke-width="0.35">73</text>
<text transform="translate(1148.03 950.72) scale(0.570 1)" font-size="19" fill="#2a2012" stroke="#2a2012" stroke-width="0.35">73</text>
<text transform="translate(651.18 975.24) scale(0.570 1)" font-size="19" fill="#2a2012" stroke="#2a2012" stroke-width="0.35">74</text>
<text transform="translate(683.20 975.24) scale(0.605 1)" font-size="19" fill="#2a2012" stroke="#2a2012" stroke-width="0.35">Lacey</text>
<text transform="translate(756.60 975.24) scale(0.605 1)" font-size="19" fill="#2a2012" stroke="#2a2012" stroke-width="0.35">Amelia Baxter</text>
<text transform="translate(898.88 975.24) scale(0.570 1)" font-size="19" fill="#2a2012" stroke="#2a2012" stroke-width="0.35">74</text>
<text transform="translate(934.73 975.24) scale(0.570 1)" font-size="19" fill="#2a2012" stroke="#2a2012" stroke-width="0.35">74</text>
<text transform="translate(970.68 975.24) scale(0.570 1)" font-size="19" fill="#2a2012" stroke="#2a2012" stroke-width="0.35">74</text>
<text transform="translate(1006.73 975.24) scale(0.570 1)" font-size="19" fill="#2a2012" stroke="#2a2012" stroke-width="0.35">74</text>
<text transform="translate(1043.08 975.24) scale(0.570 1)" font-size="19" fill="#2a2012" stroke="#2a2012" stroke-width="0.35">74</text>
<text transform="translate(1077.68 975.24) scale(0.570 1)" font-size="19" fill="#2a2012" stroke="#2a2012" stroke-width="0.35">74</text>
<text transform="translate(1113.28 975.24) scale(0.570 1)" font-size="19" fill="#2a2012" stroke="#2a2012" stroke-width="0.35">74</text>
<text transform="translate(1148.03 975.24) scale(0.570 1)" font-size="19" fill="#2a2012" stroke="#2a2012" stroke-width="0.35">74</text>
<text transform="translate(651.18 999.76) scale(0.570 1)" font-size="19" fill="#2a2012" stroke="#2a2012" stroke-width="0.35">75</text>
<text transform="translate(683.20 999.76) scale(0.605 1)" font-size="19" fill="#2a2012" stroke="#2a2012" stroke-width="0.35">Keka</text>
<text transform="translate(756.60 999.76) scale(0.605 1)" font-size="19" fill="#2a2012" stroke="#2a2012" stroke-width="0.35">Dan Murray</text>
<text transform="translate(898.88 999.76) scale(0.570 1)" font-size="19" fill="#2a2012" stroke="#2a2012" stroke-width="0.35">75</text>
<text transform="translate(934.73 999.76) scale(0.570 1)" font-size="19" fill="#2a2012" stroke="#2a2012" stroke-width="0.35">75</text>
<text transform="translate(970.68 999.76) scale(0.570 1)" font-size="19" fill="#2a2012" stroke="#2a2012" stroke-width="0.35">75</text>
<text transform="translate(1006.73 999.76) scale(0.570 1)" font-size="19" fill="#2a2012" stroke="#2a2012" stroke-width="0.35">75</text>
<text transform="translate(1043.08 999.76) scale(0.570 1)" font-size="19" fill="#2a2012" stroke="#2a2012" stroke-width="0.35">75</text>
<text transform="translate(1077.68 999.76) scale(0.570 1)" font-size="19" fill="#2a2012" stroke="#2a2012" stroke-width="0.35">75</text>
<text transform="translate(1113.28 999.76) scale(0.570 1)" font-size="19" fill="#2a2012" stroke="#2a2012" stroke-width="0.35">75</text>
<text transform="translate(1148.03 999.76) scale(0.570 1)" font-size="19" fill="#2a2012" stroke="#2a2012" stroke-width="0.35">75</text>
<text transform="translate(651.18 1024.28) scale(0.570 1)" font-size="19" fill="#2a2012" stroke="#2a2012" stroke-width="0.35">76</text>
<text transform="translate(683.20 1024.28) scale(0.605 1)" font-size="19" fill="#2a2012" stroke="#2a2012" stroke-width="0.35">Sprite</text>
<text transform="translate(756.60 1024.28) scale(0.605 1)" font-size="19" fill="#2a2012" stroke="#2a2012" stroke-width="0.35">Clay Earl</text>
<text transform="translate(898.88 1024.28) scale(0.570 1)" font-size="19" fill="#2a2012" stroke="#2a2012" stroke-width="0.35">76</text>
<text transform="translate(934.73 1024.28) scale(0.570 1)" font-size="19" fill="#2a2012" stroke="#2a2012" stroke-width="0.35">76</text>
<text transform="translate(970.68 1024.28) scale(0.570 1)" font-size="19" fill="#2a2012" stroke="#2a2012" stroke-width="0.35">76</text>
<text transform="translate(1006.73 1024.28) scale(0.570 1)" font-size="19" fill="#2a2012" stroke="#2a2012" stroke-width="0.35">76</text>
<text transform="translate(1043.08 1024.28) scale(0.570 1)" font-size="19" fill="#2a2012" stroke="#2a2012" stroke-width="0.35">76</text>
<text transform="translate(1077.68 1024.28) scale(0.570 1)" font-size="19" fill="#2a2012" stroke="#2a2012" stroke-width="0.35">76</text>
<text transform="translate(1113.28 1024.28) scale(0.570 1)" font-size="19" fill="#2a2012" stroke="#2a2012" stroke-width="0.35">76</text>
<text transform="translate(1148.03 1024.28) scale(0.570 1)" font-size="19" fill="#2a2012" stroke="#2a2012" stroke-width="0.35">76</text>
<ellipse cx="909.20" cy="153.35" rx="12.0" ry="13.4" stroke="#10282a" stroke-width="3.5" fill="none"/>
<ellipse cx="944.75" cy="180.05" rx="12.0" ry="13.4" stroke="#10282a" stroke-width="3.5" fill="none"/>
<ellipse cx="910.20" cy="196.45" rx="12.0" ry="13.4" stroke="#10282a" stroke-width="3.5" fill="none"/>
<ellipse cx="1016.15" cy="197.85" rx="12.0" ry="13.4" stroke="#10282a" stroke-width="3.5" fill="none"/>
<ellipse cx="1049.90" cy="199.55" rx="12.0" ry="13.4" stroke="#10282a" stroke-width="3.5" fill="none"/>
<ellipse cx="909.20" cy="242.65" rx="12.0" ry="13.4" stroke="#10282a" stroke-width="3.5" fill="none"/>
<ellipse cx="1016.15" cy="243.55" rx="12.0" ry="13.4" stroke="#10282a" stroke-width="3.5" fill="none"/>
<ellipse cx="944.80" cy="269.65" rx="12.0" ry="13.4" stroke="#10282a" stroke-width="3.5" fill="none"/>
<ellipse cx="979.30" cy="267.35" rx="12.0" ry="13.4" stroke="#10282a" stroke-width="3.5" fill="none"/>
<ellipse cx="1083.40" cy="269.85" rx="12.0" ry="13.4" stroke="#10282a" stroke-width="3.5" fill="none"/>
<ellipse cx="908.40" cy="288.25" rx="12.0" ry="13.4" stroke="#10282a" stroke-width="3.5" fill="none"/>
<ellipse cx="1014.50" cy="289.55" rx="12.0" ry="13.4" stroke="#10282a" stroke-width="3.5" fill="none"/>
<ellipse cx="1048.30" cy="291.05" rx="12.0" ry="13.4" stroke="#10282a" stroke-width="3.5" fill="none"/>
<ellipse cx="943.05" cy="315.45" rx="12.0" ry="13.4" stroke="#10282a" stroke-width="3.5" fill="none"/>
<ellipse cx="909.40" cy="333.25" rx="12.0" ry="13.4" stroke="#10282a" stroke-width="3.5" fill="none"/>
<ellipse cx="1015.05" cy="333.05" rx="12.0" ry="13.4" stroke="#10282a" stroke-width="3.5" fill="none"/>
<ellipse cx="1049.00" cy="334.75" rx="12.0" ry="13.4" stroke="#10282a" stroke-width="3.5" fill="none"/>
<ellipse cx="909.10" cy="381.85" rx="12.0" ry="13.4" stroke="#10282a" stroke-width="3.5" fill="none"/>
<ellipse cx="1015.35" cy="382.55" rx="12.0" ry="13.4" stroke="#10282a" stroke-width="3.5" fill="none"/>
<ellipse cx="1048.75" cy="385.45" rx="12.0" ry="13.4" stroke="#10282a" stroke-width="3.5" fill="none"/>
<ellipse cx="944.35" cy="409.25" rx="12.0" ry="13.4" stroke="#10282a" stroke-width="3.5" fill="none"/>
<ellipse cx="942.25" cy="456.06" rx="12.0" ry="13.4" stroke="#10282a" stroke-width="3.5" fill="none"/>
<ellipse cx="908.70" cy="479.78" rx="12.0" ry="13.4" stroke="#10282a" stroke-width="3.5" fill="none"/>
<ellipse cx="1014.65" cy="480.28" rx="12.0" ry="13.4" stroke="#10282a" stroke-width="3.5" fill="none"/>
<ellipse cx="943.75" cy="507.40" rx="12.0" ry="13.4" stroke="#10282a" stroke-width="3.5" fill="none"/>
<ellipse cx="978.60" cy="504.60" rx="12.0" ry="13.4" stroke="#10282a" stroke-width="3.5" fill="none"/>
<ellipse cx="1082.50" cy="507.40" rx="12.0" ry="13.4" stroke="#10282a" stroke-width="3.5" fill="none"/>
<ellipse cx="909.10" cy="528.57" rx="12.0" ry="13.4" stroke="#10282a" stroke-width="3.5" fill="none"/>
<ellipse cx="909.50" cy="577.36" rx="12.0" ry="13.4" stroke="#10282a" stroke-width="3.5" fill="none"/>
<ellipse cx="1016.00" cy="577.96" rx="12.0" ry="13.4" stroke="#10282a" stroke-width="3.5" fill="none"/>
<ellipse cx="1049.00" cy="580.26" rx="12.0" ry="13.4" stroke="#10282a" stroke-width="3.5" fill="none"/>
<ellipse cx="944.90" cy="604.78" rx="12.0" ry="13.4" stroke="#10282a" stroke-width="3.5" fill="none"/>
<ellipse cx="909.10" cy="626.80" rx="12.0" ry="13.4" stroke="#10282a" stroke-width="3.5" fill="none"/>
<ellipse cx="1015.50" cy="626.50" rx="12.0" ry="13.4" stroke="#10282a" stroke-width="3.5" fill="none"/>
<ellipse cx="1049.30" cy="629.40" rx="12.0" ry="13.4" stroke="#10282a" stroke-width="3.5" fill="none"/>
<ellipse cx="944.05" cy="653.52" rx="12.0" ry="13.4" stroke="#10282a" stroke-width="3.5" fill="none"/>
<ellipse cx="979.30" cy="651.12" rx="12.0" ry="13.4" stroke="#10282a" stroke-width="3.5" fill="none"/>
<ellipse cx="1082.70" cy="653.82" rx="12.0" ry="13.4" stroke="#10282a" stroke-width="3.5" fill="none"/>
<ellipse cx="909.10" cy="675.84" rx="12.0" ry="13.4" stroke="#10282a" stroke-width="3.5" fill="none"/>
<ellipse cx="908.58" cy="724.54" rx="12.0" ry="13.4" stroke="#10282a" stroke-width="3.5" fill="none"/>
<ellipse cx="1014.73" cy="724.25" rx="12.0" ry="13.4" stroke="#10282a" stroke-width="3.5" fill="none"/>
<ellipse cx="1049.21" cy="728.05" rx="12.0" ry="13.4" stroke="#10282a" stroke-width="3.5" fill="none"/>
<ellipse cx="943.25" cy="751.24" rx="12.0" ry="13.4" stroke="#10282a" stroke-width="3.5" fill="none"/>
<ellipse cx="978.26" cy="749.00" rx="12.0" ry="13.4" stroke="#10282a" stroke-width="3.5" fill="none"/>
<ellipse cx="1081.78" cy="751.50" rx="12.0" ry="13.4" stroke="#10282a" stroke-width="3.5" fill="none"/>
<ellipse cx="908.06" cy="773.24" rx="12.0" ry="13.4" stroke="#10282a" stroke-width="3.5" fill="none"/>
<ellipse cx="907.54" cy="821.94" rx="12.0" ry="13.4" stroke="#10282a" stroke-width="3.5" fill="none"/>
<ellipse cx="942.05" cy="897.82" rx="12.0" ry="13.4" stroke="#10282a" stroke-width="3.5" fill="none"/>
<ellipse cx="976.70" cy="895.82" rx="12.0" ry="13.4" stroke="#10282a" stroke-width="3.5" fill="none"/>
<ellipse cx="1080.40" cy="898.02" rx="12.0" ry="13.4" stroke="#10282a" stroke-width="3.5" fill="none"/>
<ellipse cx="906.50" cy="919.34" rx="12.0" ry="13.4" stroke="#10282a" stroke-width="3.5" fill="none"/>
<ellipse cx="1013.20" cy="919.74" rx="12.0" ry="13.4" stroke="#10282a" stroke-width="3.5" fill="none"/>
<ellipse cx="906.50" cy="971.68" rx="12.0" ry="13.4" stroke="#10282a" stroke-width="3.5" fill="none"/>
<ellipse cx="1012.80" cy="973.28" rx="12.0" ry="13.4" stroke="#10282a" stroke-width="3.5" fill="none"/>
<ellipse cx="1049.00" cy="974.68" rx="12.0" ry="13.4" stroke="#10282a" stroke-width="3.5" fill="none"/>
<ellipse cx="943.05" cy="997.70" rx="12.0" ry="13.4" stroke="#10282a" stroke-width="3.5" fill="none"/>
<ellipse cx="907.00" cy="1019.22" rx="12.0" ry="13.4" stroke="#10282a" stroke-width="3.5" fill="none"/>
<ellipse cx="1013.05" cy="1019.72" rx="12.0" ry="13.4" stroke="#10282a" stroke-width="3.5" fill="none"/>
</g>
<path d="M648 431H1171.6" stroke="#12243a" stroke-width="4"/>
<rect x="1197" y="1062" width="4" height="29" fill="#f2ecc8"/><ellipse cx="1200" cy="1087" rx="2.5" ry="4.5" fill="#080808"/><rect x="1196" y="0" width="5" height="2" fill="#151008"/>
</svg></body></html>
